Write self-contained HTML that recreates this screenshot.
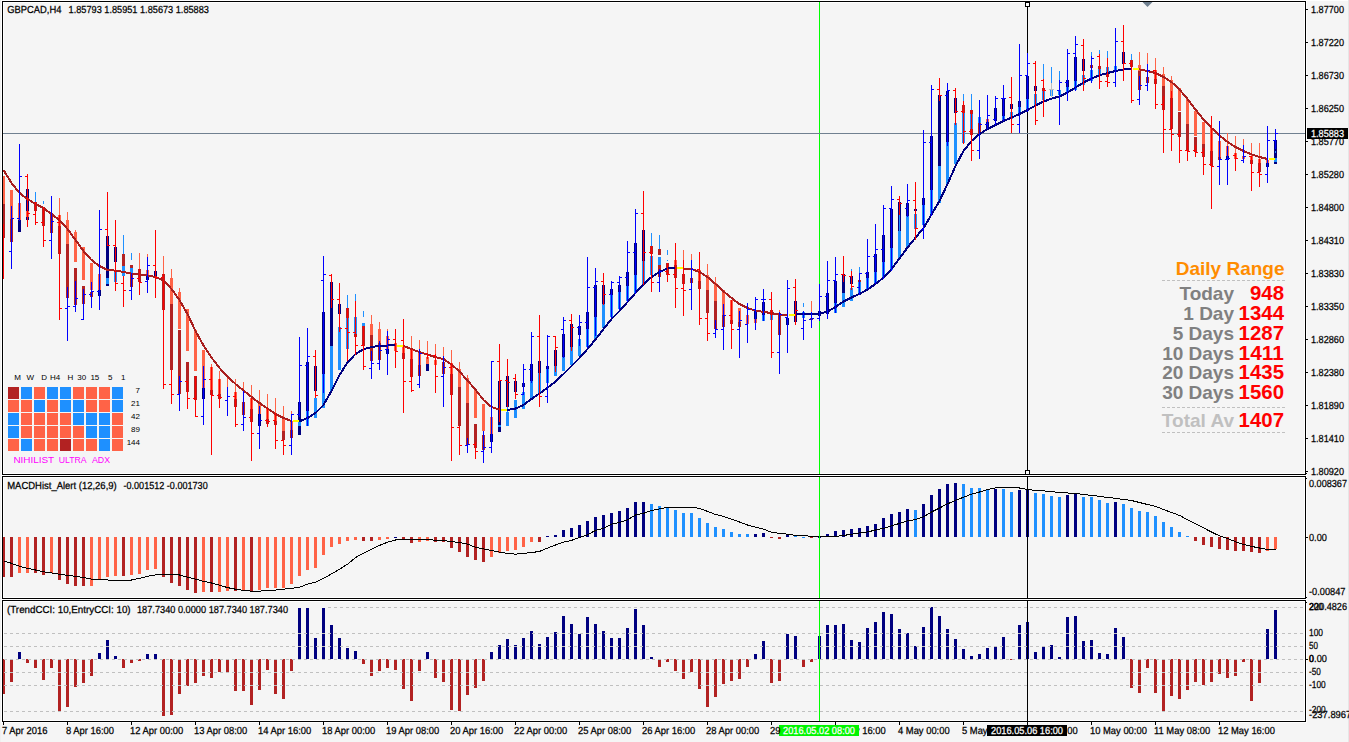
<!DOCTYPE html><html><head><meta charset="utf-8"><title>GBPCAD,H4</title>
<style>html,body{margin:0;padding:0;background:#f5f5f5;overflow:hidden}svg{display:block}text{font-family:"Liberation Sans",sans-serif}.s{font-size:10.2px;fill:#000;stroke:#000;stroke-width:.25px;text-rendering:geometricPrecision}.w{font-size:10.2px;fill:#fff;stroke:#fff;stroke-width:.25px;text-rendering:geometricPrecision}.m{font-size:8px;fill:#000}.b{font-weight:bold;font-size:19px}.n{font-weight:bold;font-size:20px;fill:#ff0000}</style></head><body>
<svg width="1349" height="742" viewBox="0 0 1349 742">
<rect width="1349" height="742" fill="#f5f5f5"/>
<g shape-rendering="crispEdges" fill="#ffffff">
<rect x="0" y="0" width="1" height="742" fill="#f0f0f0"/>
<rect x="1348" y="0" width="1" height="742" fill="#e6e6e6"/>
<rect x="1" y="0" width="1347" height="1"/>
<rect x="1" y="0" width="1" height="723"/>
<rect x="1306" y="1" width="1" height="722"/>
<rect x="3" y="2" width="1302" height="1"/>
<rect x="3" y="473" width="1302" height="1"/>
<rect x="3" y="2" width="1" height="472"/>
<rect x="1304" y="2" width="1" height="472"/>
<rect x="3" y="477" width="1302" height="1"/>
<rect x="3" y="597" width="1302" height="1"/>
<rect x="3" y="477" width="1" height="121"/>
<rect x="1304" y="477" width="1" height="121"/>
<rect x="3" y="601" width="1302" height="1"/>
<rect x="3" y="720" width="1302" height="1"/>
<rect x="3" y="601" width="1" height="120"/>
<rect x="1304" y="601" width="1" height="120"/>
<rect x="1" y="475" width="1306" height="1"/>
<rect x="1" y="599" width="1306" height="1"/>
<rect x="1" y="722" width="1306" height="1"/>
</g>
<g shape-rendering="crispEdges">
<rect x="819" y="2" width="1" height="472" fill="#00ff00"/>
<rect x="1027" y="2" width="1" height="472" fill="#000"/>
<rect x="3" y="133" width="1302" height="1" fill="#708090"/>
<line x1="328" y1="607.5" x2="1305" y2="607.5" stroke="#c0c0c0" stroke-width="1" stroke-dasharray="3 3"/>
<line x1="4" y1="633.5" x2="1305" y2="633.5" stroke="#c0c0c0" stroke-width="1" stroke-dasharray="3 3"/>
<line x1="4" y1="646.5" x2="1305" y2="646.5" stroke="#c0c0c0" stroke-width="1" stroke-dasharray="3 3"/>
<line x1="4" y1="659.5" x2="1305" y2="659.5" stroke="#c0c0c0" stroke-width="1" stroke-dasharray="3 3"/>
<line x1="4" y1="672.5" x2="1305" y2="672.5" stroke="#c0c0c0" stroke-width="1" stroke-dasharray="3 3"/>
<line x1="4" y1="685.5" x2="1305" y2="685.5" stroke="#c0c0c0" stroke-width="1" stroke-dasharray="3 3"/>
<line x1="4" y1="711.5" x2="1305" y2="711.5" stroke="#c0c0c0" stroke-width="1" stroke-dasharray="3 3"/>
<rect x="2" y="176" width="3" height="28" fill="#ff6347"/>
<rect x="2" y="204" width="3" height="34" fill="#b22222"/>
<rect x="10" y="190" width="3" height="29" fill="#ff6347"/>
<rect x="10" y="219" width="3" height="23" fill="#b22222"/>
<rect x="18" y="203" width="3" height="17" fill="#ff6347"/>
<rect x="18" y="220" width="3" height="12" fill="#000080"/>
<rect x="26" y="189" width="3" height="31" fill="#000080"/>
<rect x="26" y="211" width="3" height="6" fill="#ff6347"/>
<rect x="34" y="202" width="3" height="9" fill="#b22222"/>
<rect x="35" y="192" width="1" height="10" fill="#1e90ff"/>
<rect x="42" y="207" width="3" height="19" fill="#b22222"/>
<rect x="43" y="201" width="1" height="3" fill="#1e90ff"/>
<rect x="50" y="213" width="3" height="20" fill="#b22222"/>
<rect x="58" y="215" width="3" height="11" fill="#ff6347"/>
<rect x="58" y="226" width="3" height="28" fill="#b22222"/>
<rect x="59" y="198" width="1" height="17" fill="#ff6347"/>
<rect x="66" y="220" width="3" height="24" fill="#ff6347"/>
<rect x="66" y="244" width="3" height="54" fill="#b22222"/>
<rect x="67" y="212" width="1" height="8" fill="#ff6347"/>
<rect x="74" y="232" width="3" height="30" fill="#ff6347"/>
<rect x="74" y="268" width="3" height="37" fill="#b22222"/>
<rect x="75" y="230" width="1" height="2" fill="#ff6347"/>
<rect x="82" y="247" width="3" height="33" fill="#ff6347"/>
<rect x="82" y="286" width="3" height="18" fill="#b22222"/>
<rect x="90" y="263" width="3" height="27" fill="#ff6347"/>
<rect x="90" y="292" width="3" height="5" fill="#b22222"/>
<rect x="98" y="274" width="3" height="16" fill="#ff6347"/>
<rect x="98" y="290" width="3" height="6" fill="#000080"/>
<rect x="106" y="236" width="3" height="42" fill="#000080"/>
<rect x="106" y="278" width="3" height="6" fill="#1e90ff"/>
<rect x="106" y="284" width="3" height="2" fill="#000080"/>
<rect x="114" y="247" width="3" height="15" fill="#000080"/>
<rect x="114" y="270" width="3" height="12" fill="#1e90ff"/>
<rect x="122" y="254" width="3" height="12" fill="#b22222"/>
<rect x="122" y="266" width="3" height="10" fill="#1e90ff"/>
<rect x="123" y="235" width="1" height="19" fill="#1e90ff"/>
<rect x="130" y="265" width="3" height="3" fill="#b22222"/>
<rect x="130" y="268" width="3" height="6" fill="#1e90ff"/>
<rect x="130" y="274" width="3" height="13" fill="#b22222"/>
<rect x="131" y="253" width="1" height="7" fill="#1e90ff"/>
<rect x="138" y="269" width="3" height="13" fill="#b22222"/>
<rect x="139" y="253" width="1" height="16" fill="#ff6347"/>
<rect x="146" y="270" width="3" height="6" fill="#ff6347"/>
<rect x="146" y="276" width="3" height="4" fill="#000080"/>
<rect x="147" y="254" width="1" height="3" fill="#ff6347"/>
<rect x="154" y="271" width="3" height="7" fill="#000080"/>
<rect x="162" y="274" width="3" height="36" fill="#b22222"/>
<rect x="163" y="256" width="1" height="18" fill="#ff6347"/>
<rect x="170" y="278" width="3" height="26" fill="#ff6347"/>
<rect x="170" y="304" width="3" height="66" fill="#b22222"/>
<rect x="171" y="269" width="1" height="9" fill="#ff6347"/>
<rect x="178" y="292" width="3" height="37" fill="#ff6347"/>
<rect x="178" y="330" width="3" height="64" fill="#b22222"/>
<rect x="179" y="288" width="1" height="4" fill="#ff6347"/>
<rect x="186" y="309" width="3" height="42" fill="#ff6347"/>
<rect x="186" y="362" width="3" height="30" fill="#b22222"/>
<rect x="194" y="330" width="3" height="41" fill="#ff6347"/>
<rect x="194" y="376" width="3" height="24" fill="#b22222"/>
<rect x="202" y="350" width="3" height="38" fill="#ff6347"/>
<rect x="202" y="388" width="3" height="11" fill="#000080"/>
<rect x="210" y="367" width="3" height="23" fill="#ff6347"/>
<rect x="210" y="390" width="3" height="5" fill="#b22222"/>
<rect x="211" y="364" width="1" height="3" fill="#ff6347"/>
<rect x="218" y="379" width="3" height="15" fill="#ff6347"/>
<rect x="218" y="394" width="3" height="5" fill="#b22222"/>
<rect x="219" y="371" width="1" height="8" fill="#ff6347"/>
<rect x="227" y="377" width="1" height="10" fill="#ff6347"/>
<rect x="234" y="392" width="3" height="7" fill="#ff6347"/>
<rect x="234" y="399" width="3" height="8" fill="#b22222"/>
<rect x="235" y="379" width="1" height="13" fill="#ff6347"/>
<rect x="242" y="402" width="3" height="13" fill="#b22222"/>
<rect x="243" y="382" width="1" height="9" fill="#ff6347"/>
<rect x="250" y="398" width="3" height="11" fill="#ff6347"/>
<rect x="250" y="409" width="3" height="13" fill="#b22222"/>
<rect x="251" y="385" width="1" height="13" fill="#ff6347"/>
<rect x="258" y="403" width="3" height="11" fill="#ff6347"/>
<rect x="258" y="414" width="3" height="12" fill="#000080"/>
<rect x="259" y="390" width="1" height="13" fill="#ff6347"/>
<rect x="266" y="408" width="3" height="11" fill="#ff6347"/>
<rect x="266" y="419" width="3" height="5" fill="#b22222"/>
<rect x="267" y="394" width="1" height="14" fill="#ff6347"/>
<rect x="274" y="413" width="3" height="8" fill="#ff6347"/>
<rect x="274" y="421" width="3" height="4" fill="#b22222"/>
<rect x="275" y="398" width="1" height="15" fill="#ff6347"/>
<rect x="282" y="418" width="3" height="13" fill="#ff6347"/>
<rect x="282" y="431" width="3" height="9" fill="#b22222"/>
<rect x="283" y="406" width="1" height="12" fill="#ff6347"/>
<rect x="290" y="421" width="3" height="9" fill="#ff6347"/>
<rect x="290" y="430" width="3" height="8" fill="#b22222"/>
<rect x="291" y="411" width="1" height="3" fill="#ff6347"/>
<rect x="298" y="402" width="3" height="33" fill="#000080"/>
<rect x="298" y="421" width="3" height="5" fill="#1e90ff"/>
<rect x="306" y="362" width="3" height="49" fill="#000080"/>
<rect x="306" y="411" width="3" height="15" fill="#1e90ff"/>
<rect x="314" y="366" width="3" height="25" fill="#000080"/>
<rect x="314" y="398" width="3" height="20" fill="#1e90ff"/>
<rect x="322" y="312" width="3" height="62" fill="#000080"/>
<rect x="322" y="374" width="3" height="34" fill="#1e90ff"/>
<rect x="330" y="282" width="3" height="64" fill="#000080"/>
<rect x="330" y="346" width="3" height="45" fill="#1e90ff"/>
<rect x="338" y="304" width="3" height="10" fill="#000080"/>
<rect x="338" y="327" width="3" height="43" fill="#1e90ff"/>
<rect x="346" y="308" width="3" height="10" fill="#b22222"/>
<rect x="346" y="318" width="3" height="31" fill="#1e90ff"/>
<rect x="347" y="295" width="1" height="13" fill="#1e90ff"/>
<rect x="354" y="317" width="3" height="17" fill="#1e90ff"/>
<rect x="354" y="334" width="3" height="3" fill="#b22222"/>
<rect x="355" y="294" width="1" height="7" fill="#1e90ff"/>
<rect x="362" y="323" width="3" height="3" fill="#1e90ff"/>
<rect x="362" y="326" width="3" height="20" fill="#b22222"/>
<rect x="363" y="311" width="1" height="6" fill="#1e90ff"/>
<rect x="370" y="324" width="3" height="11" fill="#ff6347"/>
<rect x="370" y="335" width="3" height="26" fill="#b22222"/>
<rect x="371" y="315" width="1" height="9" fill="#ff6347"/>
<rect x="378" y="329" width="3" height="14" fill="#ff6347"/>
<rect x="378" y="343" width="3" height="17" fill="#b22222"/>
<rect x="379" y="322" width="1" height="7" fill="#ff6347"/>
<rect x="386" y="336" width="3" height="13" fill="#ff6347"/>
<rect x="386" y="349" width="3" height="5" fill="#000080"/>
<rect x="387" y="329" width="1" height="7" fill="#ff6347"/>
<rect x="394" y="343" width="3" height="8" fill="#ff6347"/>
<rect x="402" y="347" width="3" height="6" fill="#ff6347"/>
<rect x="402" y="353" width="3" height="6" fill="#b22222"/>
<rect x="410" y="349" width="3" height="10" fill="#ff6347"/>
<rect x="410" y="359" width="3" height="18" fill="#b22222"/>
<rect x="411" y="336" width="1" height="13" fill="#ff6347"/>
<rect x="418" y="351" width="3" height="14" fill="#ff6347"/>
<rect x="418" y="365" width="3" height="11" fill="#b22222"/>
<rect x="419" y="340" width="1" height="9" fill="#ff6347"/>
<rect x="426" y="357" width="3" height="7" fill="#ff6347"/>
<rect x="426" y="364" width="3" height="7" fill="#000080"/>
<rect x="427" y="341" width="1" height="13" fill="#ff6347"/>
<rect x="434" y="360" width="3" height="5" fill="#ff6347"/>
<rect x="435" y="344" width="1" height="10" fill="#ff6347"/>
<rect x="442" y="362" width="3" height="12" fill="#b22222"/>
<rect x="443" y="347" width="1" height="9" fill="#ff6347"/>
<rect x="450" y="363" width="3" height="11" fill="#ff6347"/>
<rect x="450" y="374" width="3" height="21" fill="#b22222"/>
<rect x="451" y="350" width="1" height="13" fill="#ff6347"/>
<rect x="458" y="369" width="3" height="18" fill="#ff6347"/>
<rect x="458" y="387" width="3" height="39" fill="#b22222"/>
<rect x="459" y="362" width="1" height="7" fill="#ff6347"/>
<rect x="466" y="378" width="3" height="25" fill="#ff6347"/>
<rect x="466" y="403" width="3" height="42" fill="#b22222"/>
<rect x="467" y="375" width="1" height="3" fill="#ff6347"/>
<rect x="474" y="389" width="3" height="29" fill="#ff6347"/>
<rect x="474" y="424" width="3" height="24" fill="#b22222"/>
<rect x="482" y="404" width="3" height="27" fill="#ff6347"/>
<rect x="482" y="435" width="3" height="15" fill="#b22222"/>
<rect x="490" y="417" width="3" height="17" fill="#ff6347"/>
<rect x="490" y="434" width="3" height="8" fill="#000080"/>
<rect x="498" y="381" width="3" height="51" fill="#000080"/>
<rect x="498" y="425" width="3" height="2" fill="#1e90ff"/>
<rect x="506" y="376" width="3" height="31" fill="#000080"/>
<rect x="506" y="412" width="3" height="14" fill="#1e90ff"/>
<rect x="507" y="392" width="1" height="20" fill="#1e90ff"/>
<rect x="514" y="381" width="3" height="11" fill="#000080"/>
<rect x="514" y="400" width="3" height="18" fill="#1e90ff"/>
<rect x="522" y="383" width="3" height="4" fill="#000080"/>
<rect x="522" y="392" width="3" height="17" fill="#1e90ff"/>
<rect x="530" y="364" width="3" height="17" fill="#000080"/>
<rect x="530" y="381" width="3" height="19" fill="#1e90ff"/>
<rect x="538" y="361" width="3" height="12" fill="#000080"/>
<rect x="538" y="373" width="3" height="21" fill="#1e90ff"/>
<rect x="546" y="366" width="3" height="3" fill="#000080"/>
<rect x="546" y="369" width="3" height="14" fill="#1e90ff"/>
<rect x="554" y="350" width="3" height="16" fill="#000080"/>
<rect x="554" y="366" width="3" height="10" fill="#1e90ff"/>
<rect x="562" y="334" width="3" height="23" fill="#000080"/>
<rect x="562" y="357" width="3" height="14" fill="#1e90ff"/>
<rect x="570" y="324" width="3" height="23" fill="#000080"/>
<rect x="570" y="347" width="3" height="18" fill="#1e90ff"/>
<rect x="578" y="326" width="3" height="9" fill="#000080"/>
<rect x="578" y="339" width="3" height="17" fill="#1e90ff"/>
<rect x="586" y="312" width="3" height="17" fill="#000080"/>
<rect x="586" y="329" width="3" height="18" fill="#1e90ff"/>
<rect x="594" y="285" width="3" height="32" fill="#000080"/>
<rect x="594" y="317" width="3" height="22" fill="#1e90ff"/>
<rect x="602" y="285" width="3" height="19" fill="#000080"/>
<rect x="602" y="304" width="3" height="24" fill="#1e90ff"/>
<rect x="610" y="289" width="3" height="6" fill="#000080"/>
<rect x="610" y="295" width="3" height="22" fill="#1e90ff"/>
<rect x="618" y="285" width="3" height="7" fill="#000080"/>
<rect x="618" y="292" width="3" height="17" fill="#1e90ff"/>
<rect x="626" y="272" width="3" height="14" fill="#000080"/>
<rect x="626" y="286" width="3" height="15" fill="#1e90ff"/>
<rect x="634" y="243" width="3" height="32" fill="#000080"/>
<rect x="634" y="275" width="3" height="18" fill="#1e90ff"/>
<rect x="642" y="230" width="3" height="31" fill="#000080"/>
<rect x="642" y="261" width="3" height="23" fill="#1e90ff"/>
<rect x="650" y="246" width="3" height="8" fill="#b22222"/>
<rect x="650" y="256" width="3" height="19" fill="#1e90ff"/>
<rect x="651" y="233" width="1" height="13" fill="#1e90ff"/>
<rect x="658" y="249" width="3" height="6" fill="#b22222"/>
<rect x="658" y="257" width="3" height="8" fill="#1e90ff"/>
<rect x="658" y="265" width="3" height="12" fill="#b22222"/>
<rect x="659" y="235" width="1" height="14" fill="#1e90ff"/>
<rect x="666" y="263" width="3" height="12" fill="#b22222"/>
<rect x="667" y="250" width="1" height="5" fill="#1e90ff"/>
<rect x="667" y="260" width="1" height="1" fill="#1e90ff"/>
<rect x="674" y="260" width="3" height="5" fill="#ff6347"/>
<rect x="674" y="265" width="3" height="13" fill="#b22222"/>
<rect x="682" y="274" width="3" height="10" fill="#b22222"/>
<rect x="683" y="250" width="1" height="10" fill="#ff6347"/>
<rect x="690" y="278" width="3" height="5" fill="#b22222"/>
<rect x="691" y="254" width="1" height="6" fill="#ff6347"/>
<rect x="698" y="270" width="3" height="11" fill="#ff6347"/>
<rect x="698" y="281" width="3" height="8" fill="#b22222"/>
<rect x="706" y="275" width="3" height="15" fill="#ff6347"/>
<rect x="706" y="290" width="3" height="23" fill="#b22222"/>
<rect x="707" y="264" width="1" height="11" fill="#ff6347"/>
<rect x="714" y="283" width="3" height="18" fill="#ff6347"/>
<rect x="714" y="301" width="3" height="28" fill="#b22222"/>
<rect x="715" y="277" width="1" height="6" fill="#ff6347"/>
<rect x="722" y="290" width="3" height="25" fill="#ff6347"/>
<rect x="722" y="315" width="3" height="12" fill="#b22222"/>
<rect x="730" y="300" width="3" height="20" fill="#ff6347"/>
<rect x="730" y="320" width="3" height="4" fill="#b22222"/>
<rect x="738" y="308" width="3" height="14" fill="#ff6347"/>
<rect x="738" y="322" width="3" height="5" fill="#b22222"/>
<rect x="746" y="315" width="3" height="9" fill="#ff6347"/>
<rect x="754" y="310" width="3" height="9" fill="#000080"/>
<rect x="754" y="319" width="3" height="4" fill="#ff6347"/>
<rect x="762" y="302" width="3" height="13" fill="#000080"/>
<rect x="762" y="315" width="3" height="6" fill="#1e90ff"/>
<rect x="770" y="310" width="3" height="5" fill="#b22222"/>
<rect x="770" y="315" width="3" height="5" fill="#1e90ff"/>
<rect x="778" y="315" width="3" height="20" fill="#b22222"/>
<rect x="779" y="310" width="1" height="2" fill="#ff6347"/>
<rect x="786" y="318" width="3" height="7" fill="#000080"/>
<rect x="794" y="301" width="3" height="21" fill="#000080"/>
<rect x="802" y="312" width="3" height="6" fill="#1e90ff"/>
<rect x="803" y="303" width="1" height="4" fill="#1e90ff"/>
<rect x="810" y="318" width="3" height="2" fill="#b22222"/>
<rect x="811" y="301" width="1" height="11" fill="#ff6347"/>
<rect x="818" y="311" width="3" height="5" fill="#000080"/>
<rect x="826" y="293" width="3" height="21" fill="#000080"/>
<rect x="834" y="281" width="3" height="22" fill="#000080"/>
<rect x="834" y="303" width="3" height="10" fill="#1e90ff"/>
<rect x="842" y="274" width="3" height="19" fill="#000080"/>
<rect x="842" y="293" width="3" height="14" fill="#1e90ff"/>
<rect x="850" y="276" width="3" height="8" fill="#000080"/>
<rect x="850" y="288" width="3" height="13" fill="#1e90ff"/>
<rect x="851" y="269" width="1" height="7" fill="#1e90ff"/>
<rect x="858" y="280" width="3" height="2" fill="#b22222"/>
<rect x="858" y="282" width="3" height="12" fill="#1e90ff"/>
<rect x="859" y="267" width="1" height="6" fill="#1e90ff"/>
<rect x="866" y="272" width="3" height="6" fill="#000080"/>
<rect x="866" y="278" width="3" height="11" fill="#1e90ff"/>
<rect x="874" y="254" width="3" height="18" fill="#000080"/>
<rect x="874" y="272" width="3" height="11" fill="#1e90ff"/>
<rect x="882" y="235" width="3" height="27" fill="#000080"/>
<rect x="882" y="262" width="3" height="16" fill="#1e90ff"/>
<rect x="890" y="209" width="3" height="39" fill="#000080"/>
<rect x="890" y="248" width="3" height="22" fill="#1e90ff"/>
<rect x="898" y="202" width="3" height="29" fill="#000080"/>
<rect x="898" y="231" width="3" height="28" fill="#1e90ff"/>
<rect x="899" y="214" width="1" height="17" fill="#1e90ff"/>
<rect x="906" y="203" width="3" height="13" fill="#000080"/>
<rect x="906" y="216" width="3" height="31" fill="#1e90ff"/>
<rect x="914" y="209" width="3" height="2" fill="#000080"/>
<rect x="914" y="214" width="3" height="15" fill="#1e90ff"/>
<rect x="922" y="198" width="3" height="7" fill="#000080"/>
<rect x="922" y="205" width="3" height="20" fill="#1e90ff"/>
<rect x="930" y="136" width="3" height="54" fill="#000080"/>
<rect x="930" y="190" width="3" height="25" fill="#1e90ff"/>
<rect x="938" y="95" width="3" height="71" fill="#000080"/>
<rect x="938" y="166" width="3" height="37" fill="#1e90ff"/>
<rect x="946" y="91" width="3" height="51" fill="#000080"/>
<rect x="946" y="142" width="3" height="42" fill="#1e90ff"/>
<rect x="954" y="98" width="3" height="15" fill="#000080"/>
<rect x="954" y="123" width="3" height="41" fill="#1e90ff"/>
<rect x="962" y="105" width="3" height="8" fill="#b22222"/>
<rect x="962" y="113" width="3" height="30" fill="#1e90ff"/>
<rect x="963" y="94" width="1" height="11" fill="#1e90ff"/>
<rect x="970" y="110" width="3" height="4" fill="#b22222"/>
<rect x="970" y="114" width="3" height="15" fill="#1e90ff"/>
<rect x="970" y="129" width="3" height="6" fill="#b22222"/>
<rect x="971" y="94" width="1" height="16" fill="#1e90ff"/>
<rect x="978" y="117" width="3" height="6" fill="#1e90ff"/>
<rect x="978" y="123" width="3" height="12" fill="#b22222"/>
<rect x="986" y="119" width="3" height="3" fill="#ff6347"/>
<rect x="986" y="122" width="3" height="7" fill="#000080"/>
<rect x="994" y="108" width="3" height="13" fill="#000080"/>
<rect x="1002" y="99" width="3" height="17" fill="#000080"/>
<rect x="1002" y="116" width="3" height="5" fill="#1e90ff"/>
<rect x="1010" y="104" width="3" height="5" fill="#000080"/>
<rect x="1010" y="112" width="3" height="7" fill="#1e90ff"/>
<rect x="1018" y="101" width="3" height="6" fill="#000080"/>
<rect x="1018" y="107" width="3" height="8" fill="#1e90ff"/>
<rect x="1026" y="76" width="3" height="23" fill="#000080"/>
<rect x="1026" y="99" width="3" height="12" fill="#1e90ff"/>
<rect x="1034" y="86" width="3" height="5" fill="#000080"/>
<rect x="1034" y="94" width="3" height="11" fill="#1e90ff"/>
<rect x="1042" y="88" width="3" height="3" fill="#b22222"/>
<rect x="1042" y="91" width="3" height="9" fill="#1e90ff"/>
<rect x="1043" y="64" width="1" height="24" fill="#1e90ff"/>
<rect x="1050" y="90" width="3" height="6" fill="#1e90ff"/>
<rect x="1051" y="67" width="1" height="16" fill="#1e90ff"/>
<rect x="1058" y="90" width="3" height="5" fill="#1e90ff"/>
<rect x="1059" y="71" width="1" height="19" fill="#1e90ff"/>
<rect x="1066" y="80" width="3" height="7" fill="#000080"/>
<rect x="1066" y="87" width="3" height="6" fill="#1e90ff"/>
<rect x="1074" y="57" width="3" height="24" fill="#000080"/>
<rect x="1074" y="81" width="3" height="9" fill="#1e90ff"/>
<rect x="1082" y="59" width="3" height="12" fill="#000080"/>
<rect x="1082" y="75" width="3" height="10" fill="#1e90ff"/>
<rect x="1090" y="65" width="3" height="3" fill="#b22222"/>
<rect x="1090" y="70" width="3" height="11" fill="#1e90ff"/>
<rect x="1091" y="52" width="1" height="13" fill="#1e90ff"/>
<rect x="1098" y="66" width="3" height="3" fill="#b22222"/>
<rect x="1098" y="69" width="3" height="7" fill="#1e90ff"/>
<rect x="1099" y="50" width="1" height="16" fill="#1e90ff"/>
<rect x="1106" y="67" width="3" height="5" fill="#1e90ff"/>
<rect x="1106" y="72" width="3" height="5" fill="#b22222"/>
<rect x="1107" y="51" width="1" height="16" fill="#1e90ff"/>
<rect x="1114" y="66" width="3" height="4" fill="#1e90ff"/>
<rect x="1122" y="52" width="3" height="12" fill="#000080"/>
<rect x="1130" y="60" width="3" height="7" fill="#b22222"/>
<rect x="1131" y="54" width="1" height="6" fill="#1e90ff"/>
<rect x="1138" y="65" width="3" height="6" fill="#ff6347"/>
<rect x="1138" y="71" width="3" height="19" fill="#b22222"/>
<rect x="1139" y="52" width="1" height="13" fill="#ff6347"/>
<rect x="1146" y="77" width="3" height="6" fill="#b22222"/>
<rect x="1147" y="53" width="1" height="11" fill="#ff6347"/>
<rect x="1154" y="70" width="3" height="9" fill="#ff6347"/>
<rect x="1154" y="79" width="3" height="5" fill="#b22222"/>
<rect x="1155" y="58" width="1" height="12" fill="#ff6347"/>
<rect x="1162" y="74" width="3" height="12" fill="#ff6347"/>
<rect x="1162" y="86" width="3" height="24" fill="#b22222"/>
<rect x="1163" y="67" width="1" height="7" fill="#ff6347"/>
<rect x="1170" y="80" width="3" height="18" fill="#ff6347"/>
<rect x="1170" y="98" width="3" height="31" fill="#b22222"/>
<rect x="1171" y="76" width="1" height="4" fill="#ff6347"/>
<rect x="1178" y="88" width="3" height="23" fill="#ff6347"/>
<rect x="1178" y="112" width="3" height="25" fill="#b22222"/>
<rect x="1186" y="99" width="3" height="25" fill="#ff6347"/>
<rect x="1186" y="124" width="3" height="27" fill="#b22222"/>
<rect x="1194" y="111" width="3" height="25" fill="#ff6347"/>
<rect x="1194" y="137" width="3" height="15" fill="#b22222"/>
<rect x="1202" y="122" width="3" height="22" fill="#ff6347"/>
<rect x="1202" y="144" width="3" height="13" fill="#b22222"/>
<rect x="1210" y="128" width="3" height="23" fill="#ff6347"/>
<rect x="1210" y="151" width="3" height="15" fill="#b22222"/>
<rect x="1218" y="141" width="3" height="16" fill="#ff6347"/>
<rect x="1218" y="157" width="3" height="3" fill="#b22222"/>
<rect x="1226" y="146" width="3" height="10" fill="#ff6347"/>
<rect x="1226" y="156" width="3" height="4" fill="#000080"/>
<rect x="1227" y="133" width="1" height="13" fill="#ff6347"/>
<rect x="1234" y="153" width="3" height="6" fill="#ff6347"/>
<rect x="1235" y="136" width="1" height="17" fill="#ff6347"/>
<rect x="1242" y="156" width="3" height="3" fill="#ff6347"/>
<rect x="1243" y="139" width="1" height="17" fill="#ff6347"/>
<rect x="1250" y="156" width="3" height="4" fill="#ff6347"/>
<rect x="1250" y="160" width="3" height="4" fill="#b22222"/>
<rect x="1251" y="143" width="1" height="13" fill="#ff6347"/>
<rect x="1258" y="159" width="3" height="4" fill="#ff6347"/>
<rect x="1258" y="163" width="3" height="9" fill="#b22222"/>
<rect x="1259" y="143" width="1" height="16" fill="#ff6347"/>
<rect x="1266" y="160" width="3" height="3" fill="#ff6347"/>
<rect x="1266" y="163" width="3" height="4" fill="#000080"/>
<rect x="1274" y="140" width="3" height="18" fill="#000080"/>
<rect x="1274" y="158" width="3" height="4" fill="#1e90ff"/>
<rect x="1274" y="162" width="3" height="2" fill="#000080"/>
<rect x="1275" y="151" width="1" height="2" fill="#1e90ff"/>
</g>
<path d="M3.5 170 L11.5 183 L19.5 193 L27.5 199 L35.5 204 L43.5 208 L51.5 214 L59.5 220 L67.5 229 L75.5 240 L83.5 251 L91.5 260 L99.5 266 L107.5 270 L115.5 270.6 L123.5 272 L131.5 273.6 L139.5 274.4 L147.5 275.4 L155.5 277 L163.5 280.4 L171.5 289 L179.5 300 L187.5 314 L195.5 331 L203.5 345.5 L211.5 357.5 L219.5 368 L227.5 376.5 L235.5 384 L243.5 390.5 L251.5 397 L259.5 403 L267.5 408.5 L275.5 414 L283.5 418 L291.5 421" fill="none" stroke="#a81e1e" stroke-width="2" stroke-linejoin="round" stroke-linecap="butt" shape-rendering="crispEdges"/>
<path d="M298.5 421.4 L299.5 421.4 L307.5 418 L315.5 413 L323.5 405 L331.5 391 L339.5 375 L347.5 362.5 L355.5 354 L363.5 349.3 L371.5 347 L379.5 346 L387.5 345.5 L395.5 345.2" fill="none" stroke="#000080" stroke-width="2" stroke-linejoin="round" stroke-linecap="butt" shape-rendering="crispEdges"/>
<path d="M402.5 346 L403.5 346 L411.5 349 L419.5 352.2 L427.5 354.4 L435.5 357.2 L443.5 359 L451.5 364.5 L459.5 371.5 L467.5 380.5 L475.5 389.7 L483.5 400 L491.5 407 L499.5 409.6" fill="none" stroke="#a81e1e" stroke-width="2" stroke-linejoin="round" stroke-linecap="butt" shape-rendering="crispEdges"/>
<path d="M506.5 410 L507.5 410 L515.5 408.5 L523.5 405 L531.5 399 L539.5 393.6 L547.5 387.6 L555.5 381.6 L563.5 374 L571.5 366 L579.5 358 L587.5 349 L595.5 339.5 L603.5 329 L611.5 319 L619.5 311 L627.5 302 L635.5 293 L643.5 284.6 L651.5 277 L659.5 272 L667.5 268.4 L675.5 268" fill="none" stroke="#000080" stroke-width="2" stroke-linejoin="round" stroke-linecap="butt" shape-rendering="crispEdges"/>
<path d="M682.5 268.6 L683.5 268.6 L691.5 269 L699.5 272 L707.5 277 L715.5 284 L723.5 291.3 L731.5 298 L739.5 304 L747.5 308 L755.5 310.7 L763.5 311.8 L771.5 313.2 L779.5 314.4 L787.5 315" fill="none" stroke="#a81e1e" stroke-width="2" stroke-linejoin="round" stroke-linecap="butt" shape-rendering="crispEdges"/>
<path d="M794.5 314.2 L795.5 314.2 L803.5 314 L811.5 314 L819.5 313.6 L827.5 311.6 L835.5 307 L843.5 301.6 L851.5 297.4 L859.5 294 L867.5 289.4 L875.5 284 L883.5 277.6 L891.5 269 L899.5 258.3 L907.5 247.5 L915.5 237.7 L923.5 228 L931.5 214.5 L939.5 201 L947.5 184 L955.5 166 L963.5 151 L971.5 141 L979.5 134 L987.5 129 L995.5 125 L1003.5 121 L1011.5 117.6 L1019.5 114 L1027.5 110 L1035.5 105.6 L1043.5 101.6 L1051.5 98.6 L1059.5 96.4 L1067.5 92.5 L1075.5 87.5 L1083.5 82.5 L1091.5 78.5 L1099.5 75.3 L1107.5 73 L1115.5 71 L1123.5 69.4 L1131.5 69" fill="none" stroke="#000080" stroke-width="2" stroke-linejoin="round" stroke-linecap="butt" shape-rendering="crispEdges"/>
<path d="M1138.5 69.4 L1139.5 69.4 L1147.5 71 L1155.5 73 L1163.5 77 L1171.5 82 L1179.5 89.5 L1187.5 99 L1195.5 109.5 L1203.5 119.5 L1211.5 128 L1219.5 135.4 L1227.5 142 L1235.5 147 L1243.5 151 L1251.5 154.4 L1259.5 157 L1267.5 159" fill="none" stroke="#a81e1e" stroke-width="2" stroke-linejoin="round" stroke-linecap="butt" shape-rendering="crispEdges"/>
<g shape-rendering="crispEdges">
<rect x="293" y="420" width="6" height="2" fill="#ffff00"/>
<rect x="397" y="345" width="6" height="2" fill="#ffff00"/>
<rect x="501" y="409" width="6" height="2" fill="#ffff00"/>
<rect x="677" y="267" width="6" height="2" fill="#ffff00"/>
<rect x="789" y="314" width="6" height="2" fill="#ffff00"/>
<rect x="1133" y="68" width="6" height="2" fill="#ffff00"/>
<rect x="1269" y="158" width="6" height="2" fill="#ffff00"/>
<rect x="3" y="224" width="1" height="55" fill="#ff0000"/>
<rect x="11" y="206" width="1" height="63" fill="#0000ff"/>
<rect x="9" y="251" width="2" height="1" fill="#0000ff"/>
<rect x="12" y="218" width="2" height="1" fill="#0000ff"/>
<rect x="19" y="144" width="1" height="77" fill="#0000ff"/>
<rect x="17" y="218" width="2" height="1" fill="#0000ff"/>
<rect x="20" y="176" width="2" height="1" fill="#0000ff"/>
<rect x="27" y="174" width="1" height="53" fill="#ff0000"/>
<rect x="25" y="176" width="2" height="1" fill="#ff0000"/>
<rect x="28" y="213" width="2" height="1" fill="#ff0000"/>
<rect x="35" y="202" width="1" height="23" fill="#ff0000"/>
<rect x="33" y="214" width="2" height="1" fill="#ff0000"/>
<rect x="36" y="222" width="2" height="1" fill="#ff0000"/>
<rect x="43" y="207" width="1" height="40" fill="#ff0000"/>
<rect x="41" y="222" width="2" height="1" fill="#ff0000"/>
<rect x="44" y="240" width="2" height="1" fill="#ff0000"/>
<rect x="51" y="196" width="1" height="63" fill="#0000ff"/>
<rect x="49" y="240" width="2" height="1" fill="#0000ff"/>
<rect x="52" y="221" width="2" height="1" fill="#0000ff"/>
<rect x="59" y="215" width="1" height="105" fill="#ff0000"/>
<rect x="57" y="222" width="2" height="1" fill="#ff0000"/>
<rect x="60" y="308" width="2" height="1" fill="#ff0000"/>
<rect x="67" y="287" width="1" height="54" fill="#0000ff"/>
<rect x="65" y="308" width="2" height="1" fill="#0000ff"/>
<rect x="68" y="306" width="2" height="1" fill="#0000ff"/>
<rect x="75" y="281" width="1" height="31" fill="#0000ff"/>
<rect x="73" y="306" width="2" height="1" fill="#0000ff"/>
<rect x="76" y="298" width="2" height="1" fill="#0000ff"/>
<rect x="83" y="289" width="1" height="31" fill="#0000ff"/>
<rect x="81" y="319" width="2" height="1" fill="#0000ff"/>
<rect x="84" y="294" width="2" height="1" fill="#0000ff"/>
<rect x="91" y="282" width="1" height="26" fill="#0000ff"/>
<rect x="89" y="294" width="2" height="1" fill="#0000ff"/>
<rect x="92" y="291" width="2" height="1" fill="#0000ff"/>
<rect x="99" y="210" width="1" height="100" fill="#0000ff"/>
<rect x="97" y="291" width="2" height="1" fill="#0000ff"/>
<rect x="100" y="229" width="2" height="1" fill="#0000ff"/>
<rect x="107" y="192" width="1" height="54" fill="#ff0000"/>
<rect x="105" y="229" width="2" height="1" fill="#ff0000"/>
<rect x="108" y="245" width="2" height="1" fill="#ff0000"/>
<rect x="115" y="220" width="1" height="71" fill="#ff0000"/>
<rect x="113" y="245" width="2" height="1" fill="#ff0000"/>
<rect x="116" y="283" width="2" height="1" fill="#ff0000"/>
<rect x="123" y="276" width="1" height="31" fill="#ff0000"/>
<rect x="121" y="283" width="2" height="1" fill="#ff0000"/>
<rect x="124" y="290" width="2" height="1" fill="#ff0000"/>
<rect x="131" y="273" width="1" height="27" fill="#0000ff"/>
<rect x="129" y="290" width="2" height="1" fill="#0000ff"/>
<rect x="132" y="278" width="2" height="1" fill="#0000ff"/>
<rect x="139" y="269" width="1" height="26" fill="#ff0000"/>
<rect x="137" y="278" width="2" height="1" fill="#ff0000"/>
<rect x="140" y="282" width="2" height="1" fill="#ff0000"/>
<rect x="147" y="257" width="1" height="36" fill="#0000ff"/>
<rect x="145" y="281" width="2" height="1" fill="#0000ff"/>
<rect x="148" y="265" width="2" height="1" fill="#0000ff"/>
<rect x="155" y="230" width="1" height="68" fill="#ff0000"/>
<rect x="153" y="265" width="2" height="1" fill="#ff0000"/>
<rect x="156" y="277" width="2" height="1" fill="#ff0000"/>
<rect x="163" y="274" width="1" height="115" fill="#ff0000"/>
<rect x="161" y="277" width="2" height="1" fill="#ff0000"/>
<rect x="164" y="384" width="2" height="1" fill="#ff0000"/>
<rect x="171" y="370" width="1" height="34" fill="#ff0000"/>
<rect x="169" y="384" width="2" height="1" fill="#ff0000"/>
<rect x="172" y="394" width="2" height="1" fill="#ff0000"/>
<rect x="179" y="376" width="1" height="35" fill="#0000ff"/>
<rect x="177" y="394" width="2" height="1" fill="#0000ff"/>
<rect x="180" y="381" width="2" height="1" fill="#0000ff"/>
<rect x="187" y="381" width="1" height="28" fill="#ff0000"/>
<rect x="185" y="381" width="2" height="1" fill="#ff0000"/>
<rect x="188" y="398" width="2" height="1" fill="#ff0000"/>
<rect x="195" y="376" width="1" height="41" fill="#ff0000"/>
<rect x="193" y="398" width="2" height="1" fill="#ff0000"/>
<rect x="196" y="416" width="2" height="1" fill="#ff0000"/>
<rect x="203" y="366" width="1" height="59" fill="#0000ff"/>
<rect x="201" y="416" width="2" height="1" fill="#0000ff"/>
<rect x="204" y="379" width="2" height="1" fill="#0000ff"/>
<rect x="211" y="367" width="1" height="88" fill="#ff0000"/>
<rect x="209" y="379" width="2" height="1" fill="#ff0000"/>
<rect x="212" y="395" width="2" height="1" fill="#ff0000"/>
<rect x="219" y="379" width="1" height="29" fill="#ff0000"/>
<rect x="217" y="395" width="2" height="1" fill="#ff0000"/>
<rect x="220" y="397" width="2" height="1" fill="#ff0000"/>
<rect x="227" y="387" width="1" height="29" fill="#0000ff"/>
<rect x="225" y="400" width="2" height="1" fill="#0000ff"/>
<rect x="228" y="396" width="2" height="1" fill="#0000ff"/>
<rect x="235" y="392" width="1" height="35" fill="#ff0000"/>
<rect x="233" y="396" width="2" height="1" fill="#ff0000"/>
<rect x="236" y="424" width="2" height="1" fill="#ff0000"/>
<rect x="243" y="391" width="1" height="40" fill="#0000ff"/>
<rect x="241" y="424" width="2" height="1" fill="#0000ff"/>
<rect x="244" y="417" width="2" height="1" fill="#0000ff"/>
<rect x="251" y="398" width="1" height="63" fill="#ff0000"/>
<rect x="249" y="417" width="2" height="1" fill="#ff0000"/>
<rect x="252" y="433" width="2" height="1" fill="#ff0000"/>
<rect x="259" y="406" width="1" height="43" fill="#0000ff"/>
<rect x="257" y="433" width="2" height="1" fill="#0000ff"/>
<rect x="260" y="420" width="2" height="1" fill="#0000ff"/>
<rect x="267" y="408" width="1" height="19" fill="#ff0000"/>
<rect x="265" y="420" width="2" height="1" fill="#ff0000"/>
<rect x="268" y="421" width="2" height="1" fill="#ff0000"/>
<rect x="275" y="413" width="1" height="36" fill="#ff0000"/>
<rect x="273" y="420" width="2" height="1" fill="#ff0000"/>
<rect x="276" y="440" width="2" height="1" fill="#ff0000"/>
<rect x="283" y="440" width="1" height="15" fill="#ff0000"/>
<rect x="281" y="440" width="2" height="1" fill="#ff0000"/>
<rect x="284" y="445" width="2" height="1" fill="#ff0000"/>
<rect x="291" y="414" width="1" height="41" fill="#0000ff"/>
<rect x="289" y="445" width="2" height="1" fill="#0000ff"/>
<rect x="292" y="414" width="2" height="1" fill="#0000ff"/>
<rect x="299" y="337" width="1" height="80" fill="#0000ff"/>
<rect x="297" y="414" width="2" height="1" fill="#0000ff"/>
<rect x="300" y="365" width="2" height="1" fill="#0000ff"/>
<rect x="307" y="328" width="1" height="98" fill="#0000ff"/>
<rect x="305" y="365" width="2" height="1" fill="#0000ff"/>
<rect x="308" y="356" width="2" height="1" fill="#0000ff"/>
<rect x="315" y="350" width="1" height="48" fill="#ff0000"/>
<rect x="313" y="356" width="2" height="1" fill="#ff0000"/>
<rect x="316" y="395" width="2" height="1" fill="#ff0000"/>
<rect x="323" y="256" width="1" height="137" fill="#0000ff"/>
<rect x="321" y="280" width="2" height="1" fill="#0000ff"/>
<rect x="324" y="274" width="2" height="1" fill="#0000ff"/>
<rect x="331" y="274" width="1" height="34" fill="#ff0000"/>
<rect x="329" y="275" width="2" height="1" fill="#ff0000"/>
<rect x="332" y="299" width="2" height="1" fill="#ff0000"/>
<rect x="339" y="283" width="1" height="49" fill="#ff0000"/>
<rect x="337" y="299" width="2" height="1" fill="#ff0000"/>
<rect x="340" y="328" width="2" height="1" fill="#ff0000"/>
<rect x="347" y="308" width="1" height="53" fill="#ff0000"/>
<rect x="345" y="328" width="2" height="1" fill="#ff0000"/>
<rect x="348" y="332" width="2" height="1" fill="#ff0000"/>
<rect x="355" y="301" width="1" height="54" fill="#ff0000"/>
<rect x="353" y="332" width="2" height="1" fill="#ff0000"/>
<rect x="356" y="345" width="2" height="1" fill="#ff0000"/>
<rect x="363" y="326" width="1" height="44" fill="#ff0000"/>
<rect x="361" y="345" width="2" height="1" fill="#ff0000"/>
<rect x="364" y="366" width="2" height="1" fill="#ff0000"/>
<rect x="371" y="351" width="1" height="28" fill="#0000ff"/>
<rect x="369" y="368" width="2" height="1" fill="#0000ff"/>
<rect x="372" y="363" width="2" height="1" fill="#0000ff"/>
<rect x="379" y="341" width="1" height="29" fill="#0000ff"/>
<rect x="377" y="363" width="2" height="1" fill="#0000ff"/>
<rect x="380" y="350" width="2" height="1" fill="#0000ff"/>
<rect x="387" y="331" width="1" height="44" fill="#0000ff"/>
<rect x="385" y="349" width="2" height="1" fill="#0000ff"/>
<rect x="388" y="339" width="2" height="1" fill="#0000ff"/>
<rect x="395" y="329" width="1" height="39" fill="#ff0000"/>
<rect x="393" y="339" width="2" height="1" fill="#ff0000"/>
<rect x="396" y="351" width="2" height="1" fill="#ff0000"/>
<rect x="403" y="319" width="1" height="94" fill="#ff0000"/>
<rect x="401" y="340" width="2" height="1" fill="#ff0000"/>
<rect x="404" y="381" width="2" height="1" fill="#ff0000"/>
<rect x="411" y="349" width="1" height="43" fill="#ff0000"/>
<rect x="409" y="381" width="2" height="1" fill="#ff0000"/>
<rect x="412" y="390" width="2" height="1" fill="#ff0000"/>
<rect x="419" y="349" width="1" height="39" fill="#0000ff"/>
<rect x="417" y="384" width="2" height="1" fill="#0000ff"/>
<rect x="420" y="353" width="2" height="1" fill="#0000ff"/>
<rect x="427" y="354" width="1" height="5" fill="#ff0000"/>
<rect x="425" y="353" width="2" height="1" fill="#ff0000"/>
<rect x="428" y="355" width="2" height="1" fill="#ff0000"/>
<rect x="435" y="354" width="1" height="39" fill="#ff0000"/>
<rect x="433" y="355" width="2" height="1" fill="#ff0000"/>
<rect x="436" y="376" width="2" height="1" fill="#ff0000"/>
<rect x="443" y="356" width="1" height="51" fill="#0000ff"/>
<rect x="441" y="376" width="2" height="1" fill="#0000ff"/>
<rect x="444" y="367" width="2" height="1" fill="#0000ff"/>
<rect x="451" y="363" width="1" height="98" fill="#ff0000"/>
<rect x="449" y="367" width="2" height="1" fill="#ff0000"/>
<rect x="452" y="427" width="2" height="1" fill="#ff0000"/>
<rect x="459" y="426" width="1" height="29" fill="#ff0000"/>
<rect x="457" y="427" width="2" height="1" fill="#ff0000"/>
<rect x="460" y="445" width="2" height="1" fill="#ff0000"/>
<rect x="467" y="438" width="1" height="15" fill="#0000ff"/>
<rect x="465" y="445" width="2" height="1" fill="#0000ff"/>
<rect x="468" y="444" width="2" height="1" fill="#0000ff"/>
<rect x="475" y="442" width="1" height="17" fill="#ff0000"/>
<rect x="473" y="444" width="2" height="1" fill="#ff0000"/>
<rect x="476" y="451" width="2" height="1" fill="#ff0000"/>
<rect x="483" y="431" width="1" height="32" fill="#0000ff"/>
<rect x="481" y="451" width="2" height="1" fill="#0000ff"/>
<rect x="484" y="447" width="2" height="1" fill="#0000ff"/>
<rect x="491" y="361" width="1" height="92" fill="#0000ff"/>
<rect x="489" y="447" width="2" height="1" fill="#0000ff"/>
<rect x="492" y="361" width="2" height="1" fill="#0000ff"/>
<rect x="499" y="344" width="1" height="78" fill="#ff0000"/>
<rect x="497" y="361" width="2" height="1" fill="#ff0000"/>
<rect x="500" y="380" width="2" height="1" fill="#ff0000"/>
<rect x="507" y="359" width="1" height="48" fill="#ff0000"/>
<rect x="505" y="380" width="2" height="1" fill="#ff0000"/>
<rect x="508" y="382" width="2" height="1" fill="#ff0000"/>
<rect x="515" y="374" width="1" height="25" fill="#ff0000"/>
<rect x="513" y="378" width="2" height="1" fill="#ff0000"/>
<rect x="516" y="394" width="2" height="1" fill="#ff0000"/>
<rect x="523" y="364" width="1" height="31" fill="#0000ff"/>
<rect x="521" y="394" width="2" height="1" fill="#0000ff"/>
<rect x="524" y="369" width="2" height="1" fill="#0000ff"/>
<rect x="531" y="332" width="1" height="51" fill="#0000ff"/>
<rect x="529" y="369" width="2" height="1" fill="#0000ff"/>
<rect x="532" y="336" width="2" height="1" fill="#0000ff"/>
<rect x="539" y="315" width="1" height="92" fill="#ff0000"/>
<rect x="537" y="336" width="2" height="1" fill="#ff0000"/>
<rect x="540" y="396" width="2" height="1" fill="#ff0000"/>
<rect x="547" y="335" width="1" height="68" fill="#0000ff"/>
<rect x="545" y="396" width="2" height="1" fill="#0000ff"/>
<rect x="548" y="336" width="2" height="1" fill="#0000ff"/>
<rect x="555" y="336" width="1" height="36" fill="#ff0000"/>
<rect x="553" y="336" width="2" height="1" fill="#ff0000"/>
<rect x="556" y="347" width="2" height="1" fill="#ff0000"/>
<rect x="563" y="317" width="1" height="41" fill="#0000ff"/>
<rect x="561" y="329" width="2" height="1" fill="#0000ff"/>
<rect x="564" y="320" width="2" height="1" fill="#0000ff"/>
<rect x="571" y="314" width="1" height="37" fill="#ff0000"/>
<rect x="569" y="320" width="2" height="1" fill="#ff0000"/>
<rect x="572" y="327" width="2" height="1" fill="#ff0000"/>
<rect x="579" y="315" width="1" height="31" fill="#0000ff"/>
<rect x="577" y="327" width="2" height="1" fill="#0000ff"/>
<rect x="580" y="322" width="2" height="1" fill="#0000ff"/>
<rect x="587" y="257" width="1" height="91" fill="#0000ff"/>
<rect x="585" y="322" width="2" height="1" fill="#0000ff"/>
<rect x="588" y="287" width="2" height="1" fill="#0000ff"/>
<rect x="595" y="268" width="1" height="68" fill="#0000ff"/>
<rect x="593" y="287" width="2" height="1" fill="#0000ff"/>
<rect x="596" y="281" width="2" height="1" fill="#0000ff"/>
<rect x="603" y="273" width="1" height="32" fill="#ff0000"/>
<rect x="601" y="281" width="2" height="1" fill="#ff0000"/>
<rect x="604" y="294" width="2" height="1" fill="#ff0000"/>
<rect x="611" y="281" width="1" height="37" fill="#0000ff"/>
<rect x="609" y="294" width="2" height="1" fill="#0000ff"/>
<rect x="612" y="282" width="2" height="1" fill="#0000ff"/>
<rect x="619" y="276" width="1" height="34" fill="#0000ff"/>
<rect x="617" y="282" width="2" height="1" fill="#0000ff"/>
<rect x="620" y="277" width="2" height="1" fill="#0000ff"/>
<rect x="627" y="241" width="1" height="61" fill="#0000ff"/>
<rect x="625" y="277" width="2" height="1" fill="#0000ff"/>
<rect x="628" y="252" width="2" height="1" fill="#0000ff"/>
<rect x="635" y="209" width="1" height="85" fill="#0000ff"/>
<rect x="633" y="252" width="2" height="1" fill="#0000ff"/>
<rect x="636" y="213" width="2" height="1" fill="#0000ff"/>
<rect x="643" y="191" width="1" height="94" fill="#ff0000"/>
<rect x="641" y="213" width="2" height="1" fill="#ff0000"/>
<rect x="644" y="252" width="2" height="1" fill="#ff0000"/>
<rect x="651" y="246" width="1" height="46" fill="#ff0000"/>
<rect x="649" y="252" width="2" height="1" fill="#ff0000"/>
<rect x="652" y="282" width="2" height="1" fill="#ff0000"/>
<rect x="659" y="269" width="1" height="23" fill="#0000ff"/>
<rect x="657" y="282" width="2" height="1" fill="#0000ff"/>
<rect x="660" y="271" width="2" height="1" fill="#0000ff"/>
<rect x="667" y="263" width="1" height="19" fill="#ff0000"/>
<rect x="665" y="271" width="2" height="1" fill="#ff0000"/>
<rect x="668" y="274" width="2" height="1" fill="#ff0000"/>
<rect x="675" y="243" width="1" height="65" fill="#ff0000"/>
<rect x="673" y="274" width="2" height="1" fill="#ff0000"/>
<rect x="676" y="288" width="2" height="1" fill="#ff0000"/>
<rect x="683" y="260" width="1" height="56" fill="#ff0000"/>
<rect x="681" y="288" width="2" height="1" fill="#ff0000"/>
<rect x="684" y="290" width="2" height="1" fill="#ff0000"/>
<rect x="691" y="260" width="1" height="50" fill="#0000ff"/>
<rect x="689" y="289" width="2" height="1" fill="#0000ff"/>
<rect x="692" y="269" width="2" height="1" fill="#0000ff"/>
<rect x="699" y="252" width="1" height="73" fill="#ff0000"/>
<rect x="697" y="269" width="2" height="1" fill="#ff0000"/>
<rect x="700" y="318" width="2" height="1" fill="#ff0000"/>
<rect x="707" y="313" width="1" height="28" fill="#ff0000"/>
<rect x="705" y="318" width="2" height="1" fill="#ff0000"/>
<rect x="708" y="333" width="2" height="1" fill="#ff0000"/>
<rect x="715" y="320" width="1" height="18" fill="#0000ff"/>
<rect x="713" y="333" width="2" height="1" fill="#0000ff"/>
<rect x="716" y="329" width="2" height="1" fill="#0000ff"/>
<rect x="723" y="304" width="1" height="46" fill="#0000ff"/>
<rect x="721" y="329" width="2" height="1" fill="#0000ff"/>
<rect x="724" y="315" width="2" height="1" fill="#0000ff"/>
<rect x="731" y="300" width="1" height="49" fill="#ff0000"/>
<rect x="729" y="315" width="2" height="1" fill="#ff0000"/>
<rect x="732" y="329" width="2" height="1" fill="#ff0000"/>
<rect x="739" y="311" width="1" height="47" fill="#0000ff"/>
<rect x="737" y="329" width="2" height="1" fill="#0000ff"/>
<rect x="740" y="320" width="2" height="1" fill="#0000ff"/>
<rect x="747" y="303" width="1" height="40" fill="#0000ff"/>
<rect x="745" y="324" width="2" height="1" fill="#0000ff"/>
<rect x="748" y="309" width="2" height="1" fill="#0000ff"/>
<rect x="755" y="297" width="1" height="33" fill="#0000ff"/>
<rect x="753" y="309" width="2" height="1" fill="#0000ff"/>
<rect x="756" y="299" width="2" height="1" fill="#0000ff"/>
<rect x="763" y="289" width="1" height="32" fill="#0000ff"/>
<rect x="761" y="299" width="2" height="1" fill="#0000ff"/>
<rect x="764" y="299" width="2" height="1" fill="#0000ff"/>
<rect x="771" y="292" width="1" height="66" fill="#ff0000"/>
<rect x="769" y="299" width="2" height="1" fill="#ff0000"/>
<rect x="772" y="352" width="2" height="1" fill="#ff0000"/>
<rect x="779" y="312" width="1" height="62" fill="#0000ff"/>
<rect x="777" y="352" width="2" height="1" fill="#0000ff"/>
<rect x="780" y="314" width="2" height="1" fill="#0000ff"/>
<rect x="787" y="280" width="1" height="73" fill="#0000ff"/>
<rect x="785" y="317" width="2" height="1" fill="#0000ff"/>
<rect x="788" y="288" width="2" height="1" fill="#0000ff"/>
<rect x="795" y="279" width="1" height="46" fill="#ff0000"/>
<rect x="793" y="287" width="2" height="1" fill="#ff0000"/>
<rect x="796" y="310" width="2" height="1" fill="#ff0000"/>
<rect x="803" y="311" width="1" height="29" fill="#0000ff"/>
<rect x="801" y="328" width="2" height="1" fill="#0000ff"/>
<rect x="804" y="320" width="2" height="1" fill="#0000ff"/>
<rect x="811" y="312" width="1" height="16" fill="#0000ff"/>
<rect x="809" y="319" width="2" height="1" fill="#0000ff"/>
<rect x="812" y="318" width="2" height="1" fill="#0000ff"/>
<rect x="819" y="284" width="1" height="37" fill="#0000ff"/>
<rect x="817" y="318" width="2" height="1" fill="#0000ff"/>
<rect x="820" y="296" width="2" height="1" fill="#0000ff"/>
<rect x="827" y="261" width="1" height="58" fill="#0000ff"/>
<rect x="825" y="296" width="2" height="1" fill="#0000ff"/>
<rect x="828" y="280" width="2" height="1" fill="#0000ff"/>
<rect x="835" y="257" width="1" height="56" fill="#0000ff"/>
<rect x="833" y="280" width="2" height="1" fill="#0000ff"/>
<rect x="836" y="274" width="2" height="1" fill="#0000ff"/>
<rect x="843" y="256" width="1" height="26" fill="#ff0000"/>
<rect x="841" y="274" width="2" height="1" fill="#ff0000"/>
<rect x="844" y="275" width="2" height="1" fill="#ff0000"/>
<rect x="851" y="271" width="1" height="19" fill="#ff0000"/>
<rect x="849" y="276" width="2" height="1" fill="#ff0000"/>
<rect x="852" y="286" width="2" height="1" fill="#ff0000"/>
<rect x="859" y="273" width="1" height="22" fill="#0000ff"/>
<rect x="857" y="287" width="2" height="1" fill="#0000ff"/>
<rect x="860" y="273" width="2" height="1" fill="#0000ff"/>
<rect x="867" y="239" width="1" height="50" fill="#0000ff"/>
<rect x="865" y="273" width="2" height="1" fill="#0000ff"/>
<rect x="868" y="256" width="2" height="1" fill="#0000ff"/>
<rect x="875" y="224" width="1" height="60" fill="#0000ff"/>
<rect x="873" y="256" width="2" height="1" fill="#0000ff"/>
<rect x="876" y="249" width="2" height="1" fill="#0000ff"/>
<rect x="883" y="205" width="1" height="74" fill="#0000ff"/>
<rect x="881" y="249" width="2" height="1" fill="#0000ff"/>
<rect x="884" y="208" width="2" height="1" fill="#0000ff"/>
<rect x="891" y="186" width="1" height="85" fill="#0000ff"/>
<rect x="889" y="208" width="2" height="1" fill="#0000ff"/>
<rect x="892" y="199" width="2" height="1" fill="#0000ff"/>
<rect x="899" y="196" width="1" height="19" fill="#ff0000"/>
<rect x="897" y="199" width="2" height="1" fill="#ff0000"/>
<rect x="900" y="203" width="2" height="1" fill="#ff0000"/>
<rect x="907" y="184" width="1" height="33" fill="#0000ff"/>
<rect x="905" y="208" width="2" height="1" fill="#0000ff"/>
<rect x="908" y="200" width="2" height="1" fill="#0000ff"/>
<rect x="915" y="182" width="1" height="58" fill="#ff0000"/>
<rect x="913" y="200" width="2" height="1" fill="#ff0000"/>
<rect x="916" y="228" width="2" height="1" fill="#ff0000"/>
<rect x="923" y="130" width="1" height="109" fill="#0000ff"/>
<rect x="921" y="229" width="2" height="1" fill="#0000ff"/>
<rect x="924" y="142" width="2" height="1" fill="#0000ff"/>
<rect x="931" y="85" width="1" height="131" fill="#0000ff"/>
<rect x="929" y="142" width="2" height="1" fill="#0000ff"/>
<rect x="932" y="89" width="2" height="1" fill="#0000ff"/>
<rect x="939" y="78" width="1" height="23" fill="#ff0000"/>
<rect x="937" y="89" width="2" height="1" fill="#ff0000"/>
<rect x="940" y="95" width="2" height="1" fill="#ff0000"/>
<rect x="947" y="83" width="1" height="63" fill="#0000ff"/>
<rect x="945" y="95" width="2" height="1" fill="#0000ff"/>
<rect x="948" y="90" width="2" height="1" fill="#0000ff"/>
<rect x="955" y="88" width="1" height="37" fill="#ff0000"/>
<rect x="953" y="90" width="2" height="1" fill="#ff0000"/>
<rect x="956" y="111" width="2" height="1" fill="#ff0000"/>
<rect x="963" y="101" width="1" height="43" fill="#ff0000"/>
<rect x="961" y="111" width="2" height="1" fill="#ff0000"/>
<rect x="964" y="131" width="2" height="1" fill="#ff0000"/>
<rect x="971" y="110" width="1" height="51" fill="#ff0000"/>
<rect x="969" y="131" width="2" height="1" fill="#ff0000"/>
<rect x="972" y="150" width="2" height="1" fill="#ff0000"/>
<rect x="979" y="100" width="1" height="59" fill="#0000ff"/>
<rect x="977" y="150" width="2" height="1" fill="#0000ff"/>
<rect x="980" y="124" width="2" height="1" fill="#0000ff"/>
<rect x="987" y="95" width="1" height="34" fill="#0000ff"/>
<rect x="985" y="124" width="2" height="1" fill="#0000ff"/>
<rect x="988" y="115" width="2" height="1" fill="#0000ff"/>
<rect x="995" y="96" width="1" height="29" fill="#0000ff"/>
<rect x="993" y="119" width="2" height="1" fill="#0000ff"/>
<rect x="996" y="98" width="2" height="1" fill="#0000ff"/>
<rect x="1003" y="85" width="1" height="36" fill="#0000ff"/>
<rect x="1001" y="98" width="2" height="1" fill="#0000ff"/>
<rect x="1004" y="98" width="2" height="1" fill="#0000ff"/>
<rect x="1011" y="77" width="1" height="56" fill="#ff0000"/>
<rect x="1009" y="97" width="2" height="1" fill="#ff0000"/>
<rect x="1012" y="124" width="2" height="1" fill="#ff0000"/>
<rect x="1019" y="44" width="1" height="89" fill="#0000ff"/>
<rect x="1017" y="124" width="2" height="1" fill="#0000ff"/>
<rect x="1020" y="75" width="2" height="1" fill="#0000ff"/>
<rect x="1027" y="53" width="1" height="59" fill="#0000ff"/>
<rect x="1025" y="75" width="2" height="1" fill="#0000ff"/>
<rect x="1028" y="63" width="2" height="1" fill="#0000ff"/>
<rect x="1035" y="61" width="1" height="64" fill="#ff0000"/>
<rect x="1033" y="63" width="2" height="1" fill="#ff0000"/>
<rect x="1036" y="120" width="2" height="1" fill="#ff0000"/>
<rect x="1043" y="79" width="1" height="38" fill="#ff0000"/>
<rect x="1041" y="80" width="2" height="1" fill="#ff0000"/>
<rect x="1044" y="90" width="2" height="1" fill="#ff0000"/>
<rect x="1051" y="83" width="1" height="14" fill="#c0c0c0"/>
<rect x="1049" y="89" width="2" height="1" fill="#c0c0c0"/>
<rect x="1052" y="89" width="2" height="1" fill="#c0c0c0"/>
<rect x="1059" y="80" width="1" height="45" fill="#0000ff"/>
<rect x="1057" y="90" width="2" height="1" fill="#0000ff"/>
<rect x="1060" y="82" width="2" height="1" fill="#0000ff"/>
<rect x="1067" y="49" width="1" height="52" fill="#0000ff"/>
<rect x="1065" y="82" width="2" height="1" fill="#0000ff"/>
<rect x="1068" y="53" width="2" height="1" fill="#0000ff"/>
<rect x="1075" y="36" width="1" height="55" fill="#0000ff"/>
<rect x="1073" y="53" width="2" height="1" fill="#0000ff"/>
<rect x="1076" y="44" width="2" height="1" fill="#0000ff"/>
<rect x="1083" y="39" width="1" height="52" fill="#ff0000"/>
<rect x="1081" y="45" width="2" height="1" fill="#ff0000"/>
<rect x="1084" y="78" width="2" height="1" fill="#ff0000"/>
<rect x="1091" y="56" width="1" height="27" fill="#0000ff"/>
<rect x="1089" y="78" width="2" height="1" fill="#0000ff"/>
<rect x="1092" y="58" width="2" height="1" fill="#0000ff"/>
<rect x="1099" y="54" width="1" height="35" fill="#ff0000"/>
<rect x="1097" y="56" width="2" height="1" fill="#ff0000"/>
<rect x="1100" y="81" width="2" height="1" fill="#ff0000"/>
<rect x="1107" y="58" width="1" height="29" fill="#ff0000"/>
<rect x="1105" y="81" width="2" height="1" fill="#ff0000"/>
<rect x="1108" y="82" width="2" height="1" fill="#ff0000"/>
<rect x="1115" y="28" width="1" height="59" fill="#0000ff"/>
<rect x="1113" y="82" width="2" height="1" fill="#0000ff"/>
<rect x="1116" y="41" width="2" height="1" fill="#0000ff"/>
<rect x="1123" y="25" width="1" height="56" fill="#ff0000"/>
<rect x="1121" y="41" width="2" height="1" fill="#ff0000"/>
<rect x="1124" y="63" width="2" height="1" fill="#ff0000"/>
<rect x="1131" y="60" width="1" height="43" fill="#ff0000"/>
<rect x="1129" y="63" width="2" height="1" fill="#ff0000"/>
<rect x="1132" y="100" width="2" height="1" fill="#ff0000"/>
<rect x="1139" y="76" width="1" height="29" fill="#0000ff"/>
<rect x="1137" y="99" width="2" height="1" fill="#0000ff"/>
<rect x="1140" y="85" width="2" height="1" fill="#0000ff"/>
<rect x="1147" y="64" width="1" height="27" fill="#0000ff"/>
<rect x="1145" y="85" width="2" height="1" fill="#0000ff"/>
<rect x="1148" y="70" width="2" height="1" fill="#0000ff"/>
<rect x="1155" y="70" width="1" height="39" fill="#ff0000"/>
<rect x="1153" y="70" width="2" height="1" fill="#ff0000"/>
<rect x="1156" y="104" width="2" height="1" fill="#ff0000"/>
<rect x="1163" y="96" width="1" height="57" fill="#ff0000"/>
<rect x="1161" y="104" width="2" height="1" fill="#ff0000"/>
<rect x="1164" y="129" width="2" height="1" fill="#ff0000"/>
<rect x="1171" y="91" width="1" height="60" fill="#ff0000"/>
<rect x="1169" y="129" width="2" height="1" fill="#ff0000"/>
<rect x="1172" y="134" width="2" height="1" fill="#ff0000"/>
<rect x="1179" y="130" width="1" height="33" fill="#ff0000"/>
<rect x="1177" y="134" width="2" height="1" fill="#ff0000"/>
<rect x="1180" y="150" width="2" height="1" fill="#ff0000"/>
<rect x="1187" y="140" width="1" height="21" fill="#ff0000"/>
<rect x="1185" y="150" width="2" height="1" fill="#ff0000"/>
<rect x="1188" y="151" width="2" height="1" fill="#ff0000"/>
<rect x="1195" y="145" width="1" height="12" fill="#ff0000"/>
<rect x="1193" y="150" width="2" height="1" fill="#ff0000"/>
<rect x="1196" y="152" width="2" height="1" fill="#ff0000"/>
<rect x="1203" y="148" width="1" height="27" fill="#ff0000"/>
<rect x="1201" y="152" width="2" height="1" fill="#ff0000"/>
<rect x="1204" y="164" width="2" height="1" fill="#ff0000"/>
<rect x="1211" y="116" width="1" height="93" fill="#ff0000"/>
<rect x="1209" y="164" width="2" height="1" fill="#ff0000"/>
<rect x="1212" y="166" width="2" height="1" fill="#ff0000"/>
<rect x="1219" y="121" width="1" height="64" fill="#0000ff"/>
<rect x="1217" y="166" width="2" height="1" fill="#0000ff"/>
<rect x="1220" y="159" width="2" height="1" fill="#0000ff"/>
<rect x="1227" y="146" width="1" height="39" fill="#0000ff"/>
<rect x="1225" y="159" width="2" height="1" fill="#0000ff"/>
<rect x="1228" y="158" width="2" height="1" fill="#0000ff"/>
<rect x="1235" y="153" width="1" height="18" fill="#ff0000"/>
<rect x="1233" y="155" width="2" height="1" fill="#ff0000"/>
<rect x="1236" y="158" width="2" height="1" fill="#ff0000"/>
<rect x="1243" y="145" width="1" height="18" fill="#0000ff"/>
<rect x="1241" y="160" width="2" height="1" fill="#0000ff"/>
<rect x="1244" y="156" width="2" height="1" fill="#0000ff"/>
<rect x="1251" y="156" width="1" height="35" fill="#ff0000"/>
<rect x="1249" y="156" width="2" height="1" fill="#ff0000"/>
<rect x="1252" y="172" width="2" height="1" fill="#ff0000"/>
<rect x="1259" y="159" width="1" height="28" fill="#ff0000"/>
<rect x="1257" y="172" width="2" height="1" fill="#ff0000"/>
<rect x="1260" y="174" width="2" height="1" fill="#ff0000"/>
<rect x="1267" y="126" width="1" height="57" fill="#0000ff"/>
<rect x="1265" y="174" width="2" height="1" fill="#0000ff"/>
<rect x="1268" y="140" width="2" height="1" fill="#0000ff"/>
<rect x="1275" y="129" width="1" height="20" fill="#0000ff"/>
<rect x="1273" y="140" width="2" height="1" fill="#0000ff"/>
<rect x="1276" y="133" width="2" height="1" fill="#0000ff"/>
<rect x="2" y="537" width="3" height="40" fill="#b22222"/>
<rect x="10" y="537" width="3" height="40" fill="#b22222"/>
<rect x="18" y="537" width="3" height="36" fill="#ff6347"/>
<rect x="26" y="537" width="3" height="36" fill="#ff6347"/>
<rect x="34" y="537" width="3" height="36" fill="#b22222"/>
<rect x="42" y="537" width="3" height="38" fill="#b22222"/>
<rect x="50" y="537" width="3" height="36" fill="#ff6347"/>
<rect x="58" y="537" width="3" height="43" fill="#b22222"/>
<rect x="66" y="537" width="3" height="47" fill="#b22222"/>
<rect x="74" y="537" width="3" height="49" fill="#b22222"/>
<rect x="82" y="537" width="3" height="49" fill="#b22222"/>
<rect x="90" y="537" width="3" height="49" fill="#ff6347"/>
<rect x="98" y="537" width="3" height="42" fill="#ff6347"/>
<rect x="106" y="537" width="3" height="40" fill="#ff6347"/>
<rect x="114" y="537" width="3" height="39" fill="#ff6347"/>
<rect x="122" y="537" width="3" height="39" fill="#b22222"/>
<rect x="130" y="537" width="3" height="38" fill="#ff6347"/>
<rect x="138" y="537" width="3" height="37" fill="#ff6347"/>
<rect x="146" y="537" width="3" height="33" fill="#ff6347"/>
<rect x="154" y="537" width="3" height="32" fill="#ff6347"/>
<rect x="162" y="537" width="3" height="40" fill="#b22222"/>
<rect x="170" y="537" width="3" height="46" fill="#b22222"/>
<rect x="178" y="537" width="3" height="49" fill="#b22222"/>
<rect x="186" y="537" width="3" height="53" fill="#b22222"/>
<rect x="194" y="537" width="3" height="56" fill="#b22222"/>
<rect x="202" y="537" width="3" height="55" fill="#ff6347"/>
<rect x="210" y="537" width="3" height="55" fill="#b22222"/>
<rect x="218" y="537" width="3" height="55" fill="#ff6347"/>
<rect x="226" y="537" width="3" height="54" fill="#ff6347"/>
<rect x="234" y="537" width="3" height="54" fill="#b22222"/>
<rect x="242" y="537" width="3" height="53" fill="#ff6347"/>
<rect x="250" y="537" width="3" height="54" fill="#b22222"/>
<rect x="258" y="537" width="3" height="53" fill="#ff6347"/>
<rect x="266" y="537" width="3" height="51" fill="#ff6347"/>
<rect x="274" y="537" width="3" height="51" fill="#ff6347"/>
<rect x="282" y="537" width="3" height="51" fill="#ff6347"/>
<rect x="290" y="537" width="3" height="47" fill="#ff6347"/>
<rect x="298" y="537" width="3" height="39" fill="#ff6347"/>
<rect x="306" y="537" width="3" height="33" fill="#ff6347"/>
<rect x="314" y="537" width="3" height="31" fill="#ff6347"/>
<rect x="322" y="537" width="3" height="18" fill="#ff6347"/>
<rect x="330" y="537" width="3" height="10" fill="#ff6347"/>
<rect x="338" y="537" width="3" height="7" fill="#ff6347"/>
<rect x="346" y="537" width="3" height="4" fill="#ff6347"/>
<rect x="354" y="537" width="3" height="3" fill="#ff6347"/>
<rect x="362" y="537" width="3" height="4" fill="#b22222"/>
<rect x="370" y="537" width="3" height="4" fill="#b22222"/>
<rect x="378" y="537" width="3" height="3" fill="#ff6347"/>
<rect x="386" y="537" width="3" height="2" fill="#ff6347"/>
<rect x="394" y="537" width="3" height="1" fill="#000080"/>
<rect x="402" y="537" width="3" height="2" fill="#b22222"/>
<rect x="410" y="537" width="3" height="6" fill="#b22222"/>
<rect x="418" y="537" width="3" height="5" fill="#ff6347"/>
<rect x="426" y="537" width="3" height="4" fill="#ff6347"/>
<rect x="434" y="537" width="3" height="5" fill="#b22222"/>
<rect x="442" y="537" width="3" height="5" fill="#b22222"/>
<rect x="450" y="537" width="3" height="11" fill="#b22222"/>
<rect x="458" y="537" width="3" height="15" fill="#b22222"/>
<rect x="466" y="537" width="3" height="20" fill="#b22222"/>
<rect x="474" y="537" width="3" height="23" fill="#b22222"/>
<rect x="482" y="537" width="3" height="25" fill="#b22222"/>
<rect x="490" y="537" width="3" height="20" fill="#ff6347"/>
<rect x="498" y="537" width="3" height="16" fill="#ff6347"/>
<rect x="506" y="537" width="3" height="14" fill="#ff6347"/>
<rect x="514" y="537" width="3" height="13" fill="#ff6347"/>
<rect x="522" y="537" width="3" height="10" fill="#ff6347"/>
<rect x="530" y="537" width="3" height="5" fill="#ff6347"/>
<rect x="538" y="537" width="3" height="5" fill="#b22222"/>
<rect x="546" y="536" width="3" height="1" fill="#000080"/>
<rect x="554" y="535" width="3" height="2" fill="#000080"/>
<rect x="562" y="530" width="3" height="7" fill="#000080"/>
<rect x="570" y="528" width="3" height="9" fill="#000080"/>
<rect x="578" y="525" width="3" height="12" fill="#000080"/>
<rect x="586" y="521" width="3" height="16" fill="#000080"/>
<rect x="594" y="517" width="3" height="20" fill="#000080"/>
<rect x="602" y="515" width="3" height="22" fill="#000080"/>
<rect x="610" y="513" width="3" height="24" fill="#000080"/>
<rect x="618" y="511" width="3" height="26" fill="#000080"/>
<rect x="626" y="508" width="3" height="29" fill="#000080"/>
<rect x="634" y="502" width="3" height="35" fill="#000080"/>
<rect x="642" y="502" width="3" height="35" fill="#000080"/>
<rect x="650" y="504" width="3" height="33" fill="#1e90ff"/>
<rect x="658" y="506" width="3" height="31" fill="#1e90ff"/>
<rect x="666" y="508" width="3" height="29" fill="#1e90ff"/>
<rect x="674" y="510" width="3" height="27" fill="#1e90ff"/>
<rect x="682" y="513" width="3" height="24" fill="#1e90ff"/>
<rect x="690" y="513" width="3" height="24" fill="#1e90ff"/>
<rect x="698" y="518" width="3" height="19" fill="#1e90ff"/>
<rect x="706" y="523" width="3" height="14" fill="#1e90ff"/>
<rect x="714" y="527" width="3" height="10" fill="#1e90ff"/>
<rect x="722" y="529" width="3" height="8" fill="#1e90ff"/>
<rect x="730" y="532" width="3" height="5" fill="#1e90ff"/>
<rect x="738" y="534" width="3" height="3" fill="#1e90ff"/>
<rect x="746" y="534" width="3" height="3" fill="#1e90ff"/>
<rect x="754" y="534" width="3" height="3" fill="#000080"/>
<rect x="762" y="533" width="3" height="4" fill="#000080"/>
<rect x="770" y="537" width="3" height="1" fill="#b22222"/>
<rect x="778" y="537" width="3" height="2" fill="#b22222"/>
<rect x="786" y="534" width="3" height="3" fill="#000080"/>
<rect x="794" y="536" width="3" height="1" fill="#1e90ff"/>
<rect x="802" y="537" width="3" height="1" fill="#1e90ff"/>
<rect x="810" y="537" width="3" height="1" fill="#b22222"/>
<rect x="818" y="537" width="3" height="1" fill="#000080"/>
<rect x="826" y="534" width="3" height="3" fill="#000080"/>
<rect x="834" y="531" width="3" height="6" fill="#000080"/>
<rect x="842" y="530" width="3" height="7" fill="#000080"/>
<rect x="850" y="529" width="3" height="8" fill="#000080"/>
<rect x="858" y="528" width="3" height="9" fill="#000080"/>
<rect x="866" y="526" width="3" height="11" fill="#000080"/>
<rect x="874" y="524" width="3" height="13" fill="#000080"/>
<rect x="882" y="518" width="3" height="19" fill="#000080"/>
<rect x="890" y="514" width="3" height="23" fill="#000080"/>
<rect x="898" y="512" width="3" height="25" fill="#000080"/>
<rect x="906" y="509" width="3" height="28" fill="#000080"/>
<rect x="914" y="510" width="3" height="27" fill="#1e90ff"/>
<rect x="922" y="504" width="3" height="33" fill="#000080"/>
<rect x="930" y="495" width="3" height="42" fill="#000080"/>
<rect x="938" y="489" width="3" height="48" fill="#000080"/>
<rect x="946" y="484" width="3" height="53" fill="#000080"/>
<rect x="954" y="483" width="3" height="54" fill="#000080"/>
<rect x="962" y="484" width="3" height="53" fill="#1e90ff"/>
<rect x="970" y="488" width="3" height="49" fill="#1e90ff"/>
<rect x="978" y="488" width="3" height="49" fill="#1e90ff"/>
<rect x="986" y="490" width="3" height="47" fill="#1e90ff"/>
<rect x="994" y="489" width="3" height="48" fill="#000080"/>
<rect x="1002" y="489" width="3" height="48" fill="#1e90ff"/>
<rect x="1010" y="492" width="3" height="45" fill="#1e90ff"/>
<rect x="1018" y="490" width="3" height="47" fill="#000080"/>
<rect x="1026" y="490" width="3" height="47" fill="#000080"/>
<rect x="1034" y="493" width="3" height="44" fill="#1e90ff"/>
<rect x="1042" y="494" width="3" height="43" fill="#1e90ff"/>
<rect x="1050" y="496" width="3" height="41" fill="#1e90ff"/>
<rect x="1058" y="497" width="3" height="40" fill="#1e90ff"/>
<rect x="1066" y="495" width="3" height="42" fill="#000080"/>
<rect x="1074" y="494" width="3" height="43" fill="#000080"/>
<rect x="1082" y="497" width="3" height="40" fill="#1e90ff"/>
<rect x="1090" y="497" width="3" height="40" fill="#1e90ff"/>
<rect x="1098" y="500" width="3" height="37" fill="#1e90ff"/>
<rect x="1106" y="503" width="3" height="34" fill="#1e90ff"/>
<rect x="1114" y="502" width="3" height="35" fill="#000080"/>
<rect x="1122" y="504" width="3" height="33" fill="#1e90ff"/>
<rect x="1130" y="508" width="3" height="29" fill="#1e90ff"/>
<rect x="1138" y="511" width="3" height="26" fill="#1e90ff"/>
<rect x="1146" y="512" width="3" height="25" fill="#1e90ff"/>
<rect x="1154" y="516" width="3" height="21" fill="#1e90ff"/>
<rect x="1162" y="522" width="3" height="15" fill="#1e90ff"/>
<rect x="1170" y="527" width="3" height="10" fill="#1e90ff"/>
<rect x="1178" y="532" width="3" height="5" fill="#1e90ff"/>
<rect x="1186" y="536" width="3" height="1" fill="#1e90ff"/>
<rect x="1194" y="537" width="3" height="4" fill="#b22222"/>
<rect x="1202" y="537" width="3" height="8" fill="#b22222"/>
<rect x="1210" y="537" width="3" height="10" fill="#b22222"/>
<rect x="1218" y="537" width="3" height="12" fill="#b22222"/>
<rect x="1226" y="537" width="3" height="13" fill="#b22222"/>
<rect x="1234" y="537" width="3" height="14" fill="#b22222"/>
<rect x="1242" y="537" width="3" height="14" fill="#b22222"/>
<rect x="1250" y="537" width="3" height="15" fill="#b22222"/>
<rect x="1258" y="537" width="3" height="16" fill="#b22222"/>
<rect x="1266" y="537" width="3" height="14" fill="#ff6347"/>
<rect x="1274" y="537" width="3" height="12" fill="#ff6347"/>
</g>
<path d="M3.5 560.8 L11.5 563.3 L19.5 566.3 L27.5 568.3 L35.5 570 L43.5 571.7 L51.5 573 L59.5 574.2 L67.5 575.3 L75.5 576.3 L83.5 577.5 L91.5 579.2 L99.5 579.2 L107.5 580 L115.5 580 L123.5 580 L131.5 580 L139.5 578.3 L147.5 576.3 L155.5 575 L163.5 574.2 L171.5 574.2 L179.5 575 L187.5 577.2 L195.5 579.2 L203.5 581.3 L211.5 583 L219.5 585.2 L227.5 587.6 L235.5 589.2 L243.5 590.4 L251.5 591.1 L259.5 591.1 L267.5 590.4 L275.5 590.1 L283.5 589.2 L291.5 588.4 L299.5 587.2 L307.5 584.2 L315.5 582.1 L323.5 578.4 L331.5 573.9 L339.5 569.2 L347.5 564.2 L355.5 557.6 L363.5 553.1 L371.5 549.2 L379.5 545.4 L387.5 542.2 L395.5 540 L403.5 539.2 L411.5 539.2 L419.5 539.2 L427.5 539.2 L435.5 540.4 L443.5 540.4 L451.5 541.7 L459.5 542.5 L467.5 544.2 L475.5 547.2 L483.5 548.9 L491.5 550.4 L499.5 552.1 L507.5 553.4 L515.5 554.2 L523.5 553.4 L531.5 552.6 L539.5 551.4 L547.5 548.1 L555.5 545 L563.5 542.2 L571.5 540.4 L579.5 537.5 L587.5 534.7 L595.5 530.5 L603.5 528.4 L611.5 524.2 L619.5 522.5 L627.5 519.7 L635.5 515 L643.5 513.4 L651.5 510.5 L659.5 508.9 L667.5 507.2 L675.5 507.2 L683.5 507.2 L691.5 507.2 L699.5 508.4 L707.5 511.4 L715.5 514.5 L723.5 516.4 L731.5 519.2 L739.5 522 L747.5 525 L755.5 527.2 L763.5 529.2 L771.5 532.2 L779.5 533.4 L787.5 534.2 L795.5 535.4 L803.5 535.5 L811.5 536.4 L819.5 536.4 L827.5 536.4 L835.5 536.4 L843.5 535.5 L851.5 534.2 L859.5 533 L867.5 532 L875.5 530 L883.5 528.4 L891.5 525.9 L899.5 523.4 L907.5 520.9 L915.5 519.5 L923.5 516.7 L931.5 512 L939.5 508 L947.5 503.9 L955.5 500.3 L963.5 497.2 L971.5 494.2 L979.5 492 L987.5 489.5 L995.5 488 L1003.5 487.2 L1011.5 487.2 L1019.5 488 L1027.5 489.5 L1035.5 490.5 L1043.5 490.8 L1051.5 491.7 L1059.5 492.5 L1067.5 493 L1075.5 493.3 L1083.5 494.5 L1091.5 495.5 L1099.5 496.3 L1107.5 497.5 L1115.5 498.3 L1123.5 499.5 L1131.5 500.5 L1139.5 502.5 L1147.5 504.5 L1155.5 506.4 L1163.5 509.5 L1171.5 512.5 L1179.5 515.4 L1187.5 519.7 L1195.5 523.7 L1203.5 527.9 L1211.5 532 L1219.5 535.9 L1227.5 538.4 L1235.5 541.7 L1243.5 544.5 L1251.5 546.4 L1259.5 548 L1267.5 549.5 L1275.5 549.2" fill="none" stroke="#000" stroke-width="1" stroke-linejoin="round" shape-rendering="crispEdges"/>
<g shape-rendering="crispEdges">
<rect x="2" y="659" width="3" height="35" fill="#b22222"/>
<rect x="10" y="659" width="3" height="23" fill="#b22222"/>
<rect x="18" y="652" width="3" height="7" fill="#000080"/>
<rect x="26" y="659" width="3" height="4" fill="#b22222"/>
<rect x="34" y="659" width="3" height="9" fill="#b22222"/>
<rect x="42" y="659" width="3" height="21" fill="#b22222"/>
<rect x="50" y="659" width="3" height="9" fill="#b22222"/>
<rect x="58" y="659" width="3" height="52" fill="#b22222"/>
<rect x="66" y="659" width="3" height="48" fill="#b22222"/>
<rect x="74" y="659" width="3" height="28" fill="#b22222"/>
<rect x="82" y="659" width="3" height="24" fill="#b22222"/>
<rect x="90" y="659" width="3" height="17" fill="#b22222"/>
<rect x="98" y="653" width="3" height="6" fill="#000080"/>
<rect x="106" y="640" width="3" height="19" fill="#000080"/>
<rect x="114" y="656" width="3" height="3" fill="#000080"/>
<rect x="122" y="659" width="3" height="9" fill="#b22222"/>
<rect x="130" y="659" width="3" height="4" fill="#b22222"/>
<rect x="138" y="659" width="3" height="2" fill="#b22222"/>
<rect x="146" y="654" width="3" height="5" fill="#000080"/>
<rect x="154" y="654" width="3" height="5" fill="#000080"/>
<rect x="162" y="659" width="3" height="57" fill="#b22222"/>
<rect x="170" y="659" width="3" height="56" fill="#b22222"/>
<rect x="178" y="659" width="3" height="35" fill="#b22222"/>
<rect x="186" y="659" width="3" height="27" fill="#b22222"/>
<rect x="194" y="659" width="3" height="24" fill="#b22222"/>
<rect x="202" y="659" width="3" height="17" fill="#b22222"/>
<rect x="210" y="659" width="3" height="19" fill="#b22222"/>
<rect x="218" y="659" width="3" height="13" fill="#b22222"/>
<rect x="226" y="659" width="3" height="13" fill="#b22222"/>
<rect x="234" y="659" width="3" height="32" fill="#b22222"/>
<rect x="242" y="659" width="3" height="32" fill="#b22222"/>
<rect x="250" y="659" width="3" height="46" fill="#b22222"/>
<rect x="258" y="659" width="3" height="31" fill="#b22222"/>
<rect x="266" y="659" width="3" height="11" fill="#b22222"/>
<rect x="274" y="659" width="3" height="35" fill="#b22222"/>
<rect x="282" y="659" width="3" height="40" fill="#b22222"/>
<rect x="290" y="659" width="3" height="12" fill="#b22222"/>
<rect x="298" y="608" width="3" height="51" fill="#000080"/>
<rect x="306" y="608" width="3" height="51" fill="#000080"/>
<rect x="314" y="638" width="3" height="21" fill="#000080"/>
<rect x="322" y="608" width="3" height="51" fill="#000080"/>
<rect x="330" y="625" width="3" height="34" fill="#000080"/>
<rect x="338" y="638" width="3" height="21" fill="#000080"/>
<rect x="346" y="648" width="3" height="11" fill="#000080"/>
<rect x="354" y="651" width="3" height="8" fill="#000080"/>
<rect x="362" y="659" width="3" height="5" fill="#b22222"/>
<rect x="370" y="659" width="3" height="17" fill="#b22222"/>
<rect x="378" y="659" width="3" height="12" fill="#b22222"/>
<rect x="386" y="659" width="3" height="9" fill="#b22222"/>
<rect x="394" y="659" width="3" height="11" fill="#b22222"/>
<rect x="402" y="659" width="3" height="30" fill="#b22222"/>
<rect x="410" y="659" width="3" height="42" fill="#b22222"/>
<rect x="418" y="659" width="3" height="12" fill="#b22222"/>
<rect x="426" y="652" width="3" height="7" fill="#000080"/>
<rect x="434" y="659" width="3" height="19" fill="#b22222"/>
<rect x="442" y="659" width="3" height="23" fill="#b22222"/>
<rect x="450" y="659" width="3" height="51" fill="#b22222"/>
<rect x="458" y="659" width="3" height="52" fill="#b22222"/>
<rect x="466" y="659" width="3" height="36" fill="#b22222"/>
<rect x="474" y="659" width="3" height="29" fill="#b22222"/>
<rect x="482" y="659" width="3" height="22" fill="#b22222"/>
<rect x="490" y="652" width="3" height="7" fill="#000080"/>
<rect x="498" y="645" width="3" height="14" fill="#000080"/>
<rect x="506" y="639" width="3" height="20" fill="#000080"/>
<rect x="514" y="645" width="3" height="14" fill="#000080"/>
<rect x="522" y="638" width="3" height="21" fill="#000080"/>
<rect x="530" y="631" width="3" height="28" fill="#000080"/>
<rect x="538" y="644" width="3" height="15" fill="#000080"/>
<rect x="546" y="637" width="3" height="22" fill="#000080"/>
<rect x="554" y="632" width="3" height="27" fill="#000080"/>
<rect x="562" y="616" width="3" height="43" fill="#000080"/>
<rect x="570" y="624" width="3" height="35" fill="#000080"/>
<rect x="578" y="634" width="3" height="25" fill="#000080"/>
<rect x="586" y="617" width="3" height="42" fill="#000080"/>
<rect x="594" y="624" width="3" height="35" fill="#000080"/>
<rect x="602" y="631" width="3" height="28" fill="#000080"/>
<rect x="610" y="638" width="3" height="21" fill="#000080"/>
<rect x="618" y="638" width="3" height="21" fill="#000080"/>
<rect x="626" y="628" width="3" height="31" fill="#000080"/>
<rect x="634" y="609" width="3" height="50" fill="#000080"/>
<rect x="642" y="625" width="3" height="34" fill="#000080"/>
<rect x="650" y="657" width="3" height="2" fill="#000080"/>
<rect x="658" y="659" width="3" height="8" fill="#b22222"/>
<rect x="666" y="659" width="3" height="3" fill="#b22222"/>
<rect x="674" y="659" width="3" height="12" fill="#b22222"/>
<rect x="682" y="659" width="3" height="20" fill="#b22222"/>
<rect x="690" y="659" width="3" height="13" fill="#b22222"/>
<rect x="698" y="659" width="3" height="30" fill="#b22222"/>
<rect x="706" y="659" width="3" height="48" fill="#b22222"/>
<rect x="714" y="659" width="3" height="38" fill="#b22222"/>
<rect x="722" y="659" width="3" height="25" fill="#b22222"/>
<rect x="730" y="659" width="3" height="22" fill="#b22222"/>
<rect x="738" y="659" width="3" height="20" fill="#b22222"/>
<rect x="746" y="659" width="3" height="8" fill="#b22222"/>
<rect x="754" y="654" width="3" height="5" fill="#000080"/>
<rect x="762" y="641" width="3" height="18" fill="#000080"/>
<rect x="770" y="659" width="3" height="24" fill="#b22222"/>
<rect x="778" y="659" width="3" height="22" fill="#b22222"/>
<rect x="786" y="634" width="3" height="25" fill="#000080"/>
<rect x="794" y="636" width="3" height="23" fill="#000080"/>
<rect x="802" y="659" width="3" height="8" fill="#b22222"/>
<rect x="810" y="659" width="3" height="3" fill="#b22222"/>
<rect x="818" y="636" width="3" height="23" fill="#000080"/>
<rect x="826" y="625" width="3" height="34" fill="#000080"/>
<rect x="834" y="625" width="3" height="34" fill="#000080"/>
<rect x="842" y="624" width="3" height="35" fill="#000080"/>
<rect x="850" y="640" width="3" height="19" fill="#000080"/>
<rect x="858" y="642" width="3" height="17" fill="#000080"/>
<rect x="866" y="628" width="3" height="31" fill="#000080"/>
<rect x="874" y="622" width="3" height="37" fill="#000080"/>
<rect x="882" y="612" width="3" height="47" fill="#000080"/>
<rect x="890" y="614" width="3" height="45" fill="#000080"/>
<rect x="898" y="629" width="3" height="30" fill="#000080"/>
<rect x="906" y="633" width="3" height="26" fill="#000080"/>
<rect x="914" y="646" width="3" height="13" fill="#000080"/>
<rect x="922" y="627" width="3" height="32" fill="#000080"/>
<rect x="930" y="607" width="3" height="52" fill="#000080"/>
<rect x="938" y="616" width="3" height="43" fill="#000080"/>
<rect x="946" y="629" width="3" height="30" fill="#000080"/>
<rect x="954" y="639" width="3" height="20" fill="#000080"/>
<rect x="962" y="649" width="3" height="10" fill="#000080"/>
<rect x="970" y="656" width="3" height="3" fill="#000080"/>
<rect x="978" y="654" width="3" height="5" fill="#000080"/>
<rect x="986" y="648" width="3" height="11" fill="#000080"/>
<rect x="994" y="647" width="3" height="12" fill="#000080"/>
<rect x="1002" y="637" width="3" height="22" fill="#000080"/>
<rect x="1010" y="659" width="3" height="1" fill="#b22222"/>
<rect x="1018" y="625" width="3" height="34" fill="#000080"/>
<rect x="1026" y="622" width="3" height="37" fill="#000080"/>
<rect x="1034" y="652" width="3" height="7" fill="#000080"/>
<rect x="1042" y="647" width="3" height="12" fill="#000080"/>
<rect x="1050" y="645" width="3" height="14" fill="#000080"/>
<rect x="1058" y="657" width="3" height="2" fill="#000080"/>
<rect x="1066" y="617" width="3" height="42" fill="#000080"/>
<rect x="1074" y="616" width="3" height="43" fill="#000080"/>
<rect x="1082" y="641" width="3" height="18" fill="#000080"/>
<rect x="1090" y="640" width="3" height="19" fill="#000080"/>
<rect x="1098" y="653" width="3" height="6" fill="#000080"/>
<rect x="1106" y="654" width="3" height="5" fill="#000080"/>
<rect x="1114" y="628" width="3" height="31" fill="#000080"/>
<rect x="1122" y="637" width="3" height="22" fill="#000080"/>
<rect x="1130" y="659" width="3" height="29" fill="#b22222"/>
<rect x="1138" y="659" width="3" height="34" fill="#b22222"/>
<rect x="1146" y="659" width="3" height="9" fill="#b22222"/>
<rect x="1154" y="659" width="3" height="34" fill="#b22222"/>
<rect x="1162" y="659" width="3" height="52" fill="#b22222"/>
<rect x="1170" y="659" width="3" height="37" fill="#b22222"/>
<rect x="1178" y="659" width="3" height="40" fill="#b22222"/>
<rect x="1186" y="659" width="3" height="31" fill="#b22222"/>
<rect x="1194" y="659" width="3" height="23" fill="#b22222"/>
<rect x="1202" y="659" width="3" height="26" fill="#b22222"/>
<rect x="1210" y="659" width="3" height="23" fill="#b22222"/>
<rect x="1218" y="659" width="3" height="15" fill="#b22222"/>
<rect x="1226" y="659" width="3" height="19" fill="#b22222"/>
<rect x="1234" y="659" width="3" height="17" fill="#b22222"/>
<rect x="1242" y="659" width="3" height="3" fill="#b22222"/>
<rect x="1250" y="659" width="3" height="42" fill="#b22222"/>
<rect x="1258" y="659" width="3" height="24" fill="#b22222"/>
<rect x="1266" y="629" width="3" height="30" fill="#000080"/>
<rect x="1274" y="610" width="3" height="49" fill="#000080"/>
<line x1="328" y1="607.5" x2="1305" y2="607.5" stroke="#c0c0c0" stroke-width="1" stroke-dasharray="3 3"/>
<line x1="4" y1="633.5" x2="1305" y2="633.5" stroke="#c0c0c0" stroke-width="1" stroke-dasharray="3 3"/>
<line x1="4" y1="646.5" x2="1305" y2="646.5" stroke="#c0c0c0" stroke-width="1" stroke-dasharray="3 3"/>
<line x1="4" y1="659.5" x2="1305" y2="659.5" stroke="#c0c0c0" stroke-width="1" stroke-dasharray="3 3"/>
<line x1="4" y1="672.5" x2="1305" y2="672.5" stroke="#c0c0c0" stroke-width="1" stroke-dasharray="3 3"/>
<line x1="4" y1="685.5" x2="1305" y2="685.5" stroke="#c0c0c0" stroke-width="1" stroke-dasharray="3 3"/>
<line x1="4" y1="711.5" x2="1305" y2="711.5" stroke="#c0c0c0" stroke-width="1" stroke-dasharray="3 3"/>
<rect x="1027" y="477" width="1" height="121" fill="#000"/>
<rect x="1027" y="601" width="1" height="120" fill="#000"/>
<rect x="819" y="477" width="1" height="121" fill="#00ff00"/>
<rect x="819" y="601" width="1" height="120" fill="#00ff00"/>
<rect x="2" y="1" width="1304" height="1" fill="#000"/>
<rect x="2" y="1" width="1" height="474" fill="#000"/>
<rect x="2" y="474" width="1304" height="1" fill="#000"/>
<rect x="2" y="476" width="1304" height="1" fill="#000"/>
<rect x="2" y="476" width="1" height="123" fill="#000"/>
<rect x="2" y="598" width="1304" height="1" fill="#000"/>
<rect x="2" y="600" width="1304" height="1" fill="#000"/>
<rect x="2" y="600" width="1" height="122" fill="#000"/>
<rect x="2" y="721" width="1304" height="1" fill="#000"/>
<rect x="1305" y="1" width="1" height="721" fill="#000"/>
<rect x="1305" y="475" width="1" height="1" fill="#fff"/>
<rect x="1305" y="599" width="1" height="1" fill="#fff"/>
<rect x="1306" y="473" width="1" height="1" fill="#000"/>
<rect x="1306" y="478" width="1" height="1" fill="#000"/>
<rect x="1306" y="597" width="1" height="1" fill="#000"/>
<rect x="1306" y="602" width="1" height="1" fill="#000"/>
<rect x="1306" y="9" width="2" height="1" fill="#000"/>
<rect x="1306" y="42" width="2" height="1" fill="#000"/>
<rect x="1306" y="75" width="2" height="1" fill="#000"/>
<rect x="1306" y="108" width="2" height="1" fill="#000"/>
<rect x="1306" y="141" width="2" height="1" fill="#000"/>
<rect x="1306" y="174" width="2" height="1" fill="#000"/>
<rect x="1306" y="207" width="2" height="1" fill="#000"/>
<rect x="1306" y="240" width="2" height="1" fill="#000"/>
<rect x="1306" y="273" width="2" height="1" fill="#000"/>
<rect x="1306" y="306" width="2" height="1" fill="#000"/>
<rect x="1306" y="339" width="2" height="1" fill="#000"/>
<rect x="1306" y="372" width="2" height="1" fill="#000"/>
<rect x="1306" y="405" width="2" height="1" fill="#000"/>
<rect x="1306" y="438" width="2" height="1" fill="#000"/>
<rect x="1306" y="471" width="2" height="1" fill="#000"/>
<rect x="1306" y="537" width="2" height="1" fill="#000"/>
<rect x="1306" y="659" width="2" height="1" fill="#000"/>
<rect x="3" y="722" width="1" height="3" fill="#000"/>
<rect x="67" y="722" width="1" height="3" fill="#000"/>
<rect x="131" y="722" width="1" height="3" fill="#000"/>
<rect x="195" y="722" width="1" height="3" fill="#000"/>
<rect x="259" y="722" width="1" height="3" fill="#000"/>
<rect x="323" y="722" width="1" height="3" fill="#000"/>
<rect x="387" y="722" width="1" height="3" fill="#000"/>
<rect x="451" y="722" width="1" height="3" fill="#000"/>
<rect x="515" y="722" width="1" height="3" fill="#000"/>
<rect x="579" y="722" width="1" height="3" fill="#000"/>
<rect x="643" y="722" width="1" height="3" fill="#000"/>
<rect x="707" y="722" width="1" height="3" fill="#000"/>
<rect x="771" y="722" width="1" height="3" fill="#000"/>
<rect x="835" y="722" width="1" height="3" fill="#000"/>
<rect x="899" y="722" width="1" height="3" fill="#000"/>
<rect x="963" y="722" width="1" height="3" fill="#000"/>
<rect x="1027" y="722" width="1" height="3" fill="#000"/>
<rect x="1091" y="722" width="1" height="3" fill="#000"/>
<rect x="1155" y="722" width="1" height="3" fill="#000"/>
<rect x="1219" y="722" width="1" height="3" fill="#000"/>
<rect x="1025" y="2" width="5" height="5" fill="#000"/>
<rect x="1026" y="3" width="3" height="3" fill="#fff"/>
<rect x="1025" y="470" width="5" height="5" fill="#000"/>
<rect x="1026" y="471" width="3" height="3" fill="#fff"/>
<rect x="1307" y="128" width="41" height="11" fill="#000"/>
<rect x="779" y="725" width="80" height="11" fill="#00f400"/>
<rect x="987" y="725" width="80" height="11" fill="#000"/>
</g>
<path d="M1142.5 2 L1152.5 2 L1147.5 7 Z" fill="#708090"/>
<g shape-rendering="crispEdges">
<rect x="8" y="387" width="11" height="12" fill="#b22222"/>
<rect x="21" y="387" width="11" height="12" fill="#1e90ff"/>
<rect x="34" y="387" width="11" height="12" fill="#ff6347"/>
<rect x="47" y="387" width="11" height="12" fill="#1e90ff"/>
<rect x="60" y="387" width="11" height="12" fill="#1e90ff"/>
<rect x="73" y="387" width="11" height="12" fill="#ff6347"/>
<rect x="86" y="387" width="11" height="12" fill="#ff6347"/>
<rect x="99" y="387" width="11" height="12" fill="#ff6347"/>
<rect x="112" y="387" width="11" height="12" fill="#1e90ff"/>
<rect x="8" y="400" width="11" height="12" fill="#ff6347"/>
<rect x="21" y="400" width="11" height="12" fill="#ff6347"/>
<rect x="34" y="400" width="11" height="12" fill="#1e90ff"/>
<rect x="47" y="400" width="11" height="12" fill="#ff6347"/>
<rect x="60" y="400" width="11" height="12" fill="#1e90ff"/>
<rect x="73" y="400" width="11" height="12" fill="#1e90ff"/>
<rect x="86" y="400" width="11" height="12" fill="#ff6347"/>
<rect x="99" y="400" width="11" height="12" fill="#ff6347"/>
<rect x="112" y="400" width="11" height="12" fill="#1e90ff"/>
<rect x="8" y="413" width="11" height="12" fill="#1e90ff"/>
<rect x="21" y="413" width="11" height="12" fill="#ff6347"/>
<rect x="34" y="413" width="11" height="12" fill="#ff6347"/>
<rect x="47" y="413" width="11" height="12" fill="#ff6347"/>
<rect x="60" y="413" width="11" height="12" fill="#ff6347"/>
<rect x="73" y="413" width="11" height="12" fill="#1e90ff"/>
<rect x="86" y="413" width="11" height="12" fill="#1e90ff"/>
<rect x="99" y="413" width="11" height="12" fill="#1e90ff"/>
<rect x="112" y="413" width="11" height="12" fill="#ff6347"/>
<rect x="8" y="426" width="11" height="12" fill="#1e90ff"/>
<rect x="21" y="426" width="11" height="12" fill="#ff6347"/>
<rect x="34" y="426" width="11" height="12" fill="#ff6347"/>
<rect x="47" y="426" width="11" height="12" fill="#ff6347"/>
<rect x="60" y="426" width="11" height="12" fill="#ff6347"/>
<rect x="73" y="426" width="11" height="12" fill="#ff6347"/>
<rect x="86" y="426" width="11" height="12" fill="#1e90ff"/>
<rect x="99" y="426" width="11" height="12" fill="#1e90ff"/>
<rect x="112" y="426" width="11" height="12" fill="#ff6347"/>
<rect x="8" y="439" width="11" height="12" fill="#ff6347"/>
<rect x="21" y="439" width="11" height="12" fill="#1e90ff"/>
<rect x="34" y="439" width="11" height="12" fill="#ff6347"/>
<rect x="47" y="439" width="11" height="12" fill="#ff6347"/>
<rect x="60" y="439" width="11" height="12" fill="#b22222"/>
<rect x="73" y="439" width="11" height="12" fill="#ff6347"/>
<rect x="86" y="439" width="11" height="12" fill="#ff6347"/>
<rect x="99" y="439" width="11" height="12" fill="#1e90ff"/>
<rect x="112" y="439" width="11" height="12" fill="#ff6347"/>
</g>
<text class="m" x="21" y="380" text-anchor="end">M</text>
<text class="m" x="34.05" y="380" text-anchor="end">W</text>
<text class="m" x="47.1" y="380" text-anchor="end">D</text>
<text class="m" x="60.15" y="380" text-anchor="end">H4</text>
<text class="m" x="73.2" y="380" text-anchor="end">H</text>
<text class="m" x="86.25" y="380" text-anchor="end">30</text>
<text class="m" x="99.3" y="380" text-anchor="end">15</text>
<text class="m" x="112.35" y="380" text-anchor="end">5</text>
<text class="m" x="125.4" y="380" text-anchor="end">1</text>
<text class="m" x="140" y="392.5" text-anchor="end">7</text>
<text class="m" x="140" y="405.5" text-anchor="end">21</text>
<text class="m" x="140" y="418.5" text-anchor="end">42</text>
<text class="m" x="140" y="431.5" text-anchor="end">89</text>
<text class="m" x="140" y="444.5" text-anchor="end">144</text>
<text x="13.4" y="463" style="font-size:9.3px;fill:#ff00ff" textLength="40.8" lengthAdjust="spacingAndGlyphs">NIHILIST</text>
<text x="58.7" y="463" style="font-size:9.3px;fill:#ff00ff" textLength="27.9" lengthAdjust="spacingAndGlyphs">ULTRA</text>
<text x="92" y="463" style="font-size:9.3px;fill:#ff00ff" textLength="18.1" lengthAdjust="spacingAndGlyphs">ADX</text>
<g><text class="s" transform="translate(7.2 13) scale(0.9216 1)" textLength="58.8108" lengthAdjust="spacingAndGlyphs" xml:space="preserve" style="white-space:pre">GBPCAD,H4</text></g>
<g><text class="s" transform="translate(68.6 13) scale(0.9216 1)" textLength="152.235" lengthAdjust="spacingAndGlyphs" xml:space="preserve" style="white-space:pre">1.85793 1.85951 1.85673 1.85883</text></g>
<g><text class="s" transform="translate(7.2 489) scale(0.9216 1)" textLength="118.815" lengthAdjust="spacingAndGlyphs" xml:space="preserve" style="white-space:pre">MACDHist_Alert (12,26,9)</text></g>
<g><text class="s" transform="translate(123.5 489) scale(0.9216 1)" textLength="91.3628" lengthAdjust="spacingAndGlyphs" xml:space="preserve" style="white-space:pre">-0.001512 -0.001730</text></g>
<g><text class="s" transform="translate(7 613) scale(0.9216 1)" textLength="134.115" lengthAdjust="spacingAndGlyphs" xml:space="preserve" style="white-space:pre">(TrendCCI: 10,EntryCCI: 10)</text></g>
<g><text class="s" transform="translate(137 613) scale(0.9216 1)" textLength="163.845" lengthAdjust="spacingAndGlyphs" xml:space="preserve" style="white-space:pre">187.7340 0.0000 187.7340 187.7340</text></g>
<g><text class="s" transform="translate(1311 13) scale(0.9216 1)" textLength="35.8073" lengthAdjust="spacingAndGlyphs" xml:space="preserve" style="white-space:pre">1.87700</text></g>
<g><text class="s" transform="translate(1311 46) scale(0.9216 1)" textLength="35.8073" lengthAdjust="spacingAndGlyphs" xml:space="preserve" style="white-space:pre">1.87220</text></g>
<g><text class="s" transform="translate(1311 79) scale(0.9216 1)" textLength="35.8073" lengthAdjust="spacingAndGlyphs" xml:space="preserve" style="white-space:pre">1.86730</text></g>
<g><text class="s" transform="translate(1311 112) scale(0.9216 1)" textLength="35.8073" lengthAdjust="spacingAndGlyphs" xml:space="preserve" style="white-space:pre">1.86250</text></g>
<g><text class="s" transform="translate(1311 145) scale(0.9216 1)" textLength="35.8073" lengthAdjust="spacingAndGlyphs" xml:space="preserve" style="white-space:pre">1.85770</text></g>
<g><text class="s" transform="translate(1311 178) scale(0.9216 1)" textLength="35.8073" lengthAdjust="spacingAndGlyphs" xml:space="preserve" style="white-space:pre">1.85280</text></g>
<g><text class="s" transform="translate(1311 211) scale(0.9216 1)" textLength="35.8073" lengthAdjust="spacingAndGlyphs" xml:space="preserve" style="white-space:pre">1.84800</text></g>
<g><text class="s" transform="translate(1311 244) scale(0.9216 1)" textLength="35.8073" lengthAdjust="spacingAndGlyphs" xml:space="preserve" style="white-space:pre">1.84310</text></g>
<g><text class="s" transform="translate(1311 277) scale(0.9216 1)" textLength="35.8073" lengthAdjust="spacingAndGlyphs" xml:space="preserve" style="white-space:pre">1.83830</text></g>
<g><text class="s" transform="translate(1311 310) scale(0.9216 1)" textLength="35.8073" lengthAdjust="spacingAndGlyphs" xml:space="preserve" style="white-space:pre">1.83350</text></g>
<g><text class="s" transform="translate(1311 343) scale(0.9216 1)" textLength="35.8073" lengthAdjust="spacingAndGlyphs" xml:space="preserve" style="white-space:pre">1.82860</text></g>
<g><text class="s" transform="translate(1311 376) scale(0.9216 1)" textLength="35.8073" lengthAdjust="spacingAndGlyphs" xml:space="preserve" style="white-space:pre">1.82380</text></g>
<g><text class="s" transform="translate(1311 409) scale(0.9216 1)" textLength="35.8073" lengthAdjust="spacingAndGlyphs" xml:space="preserve" style="white-space:pre">1.81890</text></g>
<g><text class="s" transform="translate(1311 442) scale(0.9216 1)" textLength="35.8073" lengthAdjust="spacingAndGlyphs" xml:space="preserve" style="white-space:pre">1.81410</text></g>
<g><text class="s" transform="translate(1311 475) scale(0.9216 1)" textLength="35.8073" lengthAdjust="spacingAndGlyphs" xml:space="preserve" style="white-space:pre">1.80920</text></g>
<g><text class="w" transform="translate(1311 137) scale(0.9216 1)" textLength="35.8073" lengthAdjust="spacingAndGlyphs" xml:space="preserve" style="white-space:pre">1.85883</text></g>
<g><text class="s" transform="translate(1309 486.5) scale(0.9216 1)" textLength="41.2326" lengthAdjust="spacingAndGlyphs" xml:space="preserve" style="white-space:pre">0.008367</text></g>
<g><text class="s" transform="translate(1309 540.5) scale(0.9216 1)" textLength="19.4227" lengthAdjust="spacingAndGlyphs" xml:space="preserve" style="white-space:pre">0.00</text></g>
<g><text class="s" transform="translate(1309 594.5) scale(0.9216 1)" textLength="39.605" lengthAdjust="spacingAndGlyphs" xml:space="preserve" style="white-space:pre">-0.00847</text></g>
<g><text class="s" transform="translate(1309 610.3) scale(0.9216 1)" textLength="41.2326" lengthAdjust="spacingAndGlyphs" xml:space="preserve" style="white-space:pre">220.4826</text></g>
<g><text class="s" transform="translate(1309 610.3) scale(0.9216 1)" textLength="15.191" lengthAdjust="spacingAndGlyphs" xml:space="preserve" style="white-space:pre">200</text></g>
<g><text class="s" transform="translate(1309 636.3) scale(0.9216 1)" textLength="15.191" lengthAdjust="spacingAndGlyphs" xml:space="preserve" style="white-space:pre">100</text></g>
<g><text class="s" transform="translate(1309 649.3) scale(0.9216 1)" textLength="9.76562" lengthAdjust="spacingAndGlyphs" xml:space="preserve" style="white-space:pre">50</text></g>
<g><text class="s" transform="translate(1309 662.3) scale(0.9216 1)" textLength="19.4227" lengthAdjust="spacingAndGlyphs" xml:space="preserve" style="white-space:pre">0.00</text></g>
<g><text class="s" transform="translate(1309 662.3) scale(0.9216 1)" textLength="4.99132" lengthAdjust="spacingAndGlyphs" xml:space="preserve" style="white-space:pre">0</text></g>
<g><text class="s" transform="translate(1309 675.3) scale(0.9216 1)" textLength="12.8038" lengthAdjust="spacingAndGlyphs" xml:space="preserve" style="white-space:pre">-50</text></g>
<g><text class="s" transform="translate(1309 688.3) scale(0.9216 1)" textLength="18.1207" lengthAdjust="spacingAndGlyphs" xml:space="preserve" style="white-space:pre">-100</text></g>
<g><text class="s" transform="translate(1309 713) scale(0.9216 1)" textLength="18.1207" lengthAdjust="spacingAndGlyphs" xml:space="preserve" style="white-space:pre">-200</text></g>
<g><text class="s" transform="translate(1309 718.4) scale(0.9216 1)" xml:space="preserve" style="white-space:pre">-237.8967</text></g>
<g><text class="s" transform="translate(2 734) scale(0.9216 1)" xml:space="preserve" style="white-space:pre">7 Apr 2016</text></g>
<g><text class="s" transform="translate(66 734) scale(0.9216 1)" xml:space="preserve" style="white-space:pre">8 Apr 16:00</text></g>
<g><text class="s" transform="translate(130 734) scale(0.9216 1)" xml:space="preserve" style="white-space:pre">12 Apr 00:00</text></g>
<g><text class="s" transform="translate(194 734) scale(0.9216 1)" xml:space="preserve" style="white-space:pre">13 Apr 08:00</text></g>
<g><text class="s" transform="translate(258 734) scale(0.9216 1)" xml:space="preserve" style="white-space:pre">14 Apr 16:00</text></g>
<g><text class="s" transform="translate(322 734) scale(0.9216 1)" xml:space="preserve" style="white-space:pre">18 Apr 00:00</text></g>
<g><text class="s" transform="translate(386 734) scale(0.9216 1)" xml:space="preserve" style="white-space:pre">19 Apr 08:00</text></g>
<g><text class="s" transform="translate(450 734) scale(0.9216 1)" xml:space="preserve" style="white-space:pre">20 Apr 16:00</text></g>
<g><text class="s" transform="translate(514 734) scale(0.9216 1)" xml:space="preserve" style="white-space:pre">22 Apr 00:00</text></g>
<g><text class="s" transform="translate(578 734) scale(0.9216 1)" xml:space="preserve" style="white-space:pre">25 Apr 08:00</text></g>
<g><text class="s" transform="translate(642 734) scale(0.9216 1)" xml:space="preserve" style="white-space:pre">26 Apr 16:00</text></g>
<g><text class="s" transform="translate(706 734) scale(0.9216 1)" xml:space="preserve" style="white-space:pre">28 Apr 00:00</text></g>
<g><text class="s" transform="translate(770 734) scale(0.9216 1)" xml:space="preserve" style="white-space:pre">29</text></g>
<g clip-path="url(#c1)"><text class="s" transform="translate(834 734) scale(0.9216 1)" xml:space="preserve" style="white-space:pre">2 May 16:00</text></g>
<g><text class="s" transform="translate(898 734) scale(0.9216 1)" xml:space="preserve" style="white-space:pre">4 May 00:00</text></g>
<g clip-path="url(#c2)"><text class="s" transform="translate(962 734) scale(0.9216 1)" xml:space="preserve" style="white-space:pre">5 May 08:00</text></g>
<g clip-path="url(#c3)"><text class="s" transform="translate(1026 734) scale(0.9216 1)" xml:space="preserve" style="white-space:pre">6 May 16:00</text></g>
<g><text class="s" transform="translate(1090 734) scale(0.9216 1)" xml:space="preserve" style="white-space:pre">10 May 00:00</text></g>
<g><text class="s" transform="translate(1154 734) scale(0.9216 1)" xml:space="preserve" style="white-space:pre">11 May 08:00</text></g>
<g><text class="s" transform="translate(1218 734) scale(0.9216 1)" xml:space="preserve" style="white-space:pre">12 May 16:00</text></g>
<defs><clipPath id="c1"><rect x="859" y="722" width="100" height="20"/></clipPath><clipPath id="c2"><rect x="900" y="722" width="87" height="20"/></clipPath><clipPath id="c3"><rect x="1067" y="722" width="40" height="20"/></clipPath></defs>
<g><text class="w" transform="translate(783 734) scale(0.9216 1)" textLength="78.125" lengthAdjust="spacingAndGlyphs" xml:space="preserve" style="white-space:pre">2016.05.02 08:00</text></g>
<g><text class="w" transform="translate(991 734) scale(0.9216 1)" textLength="78.125" lengthAdjust="spacingAndGlyphs" xml:space="preserve" style="white-space:pre">2016.05.06 16:00</text></g>
<text class="b" x="1284.5" y="274.5" text-anchor="end" fill="#ff8c00">Daily Range</text>
<g shape-rendering="crispEdges">
<line x1="1162" y1="280.5" x2="1285" y2="280.5" stroke="#c0c0c0" stroke-width="1" stroke-dasharray="3 2"/>
<line x1="1162" y1="407.5" x2="1285" y2="407.5" stroke="#c0c0c0" stroke-width="1" stroke-dasharray="3 2"/>
<line x1="1162" y1="432.5" x2="1285" y2="432.5" stroke="#c0c0c0" stroke-width="1" stroke-dasharray="3 2"/>
</g>
<text class="b" x="1234" y="300" text-anchor="end" fill="#808080">Today</text>
<text class="n" x="1284" y="300" text-anchor="end" textLength="34.05" lengthAdjust="spacingAndGlyphs">948</text>
<text class="b" x="1234" y="319.6" text-anchor="end" fill="#808080">1 Day</text>
<text class="n" x="1284" y="319.6" text-anchor="end" textLength="45.4" lengthAdjust="spacingAndGlyphs">1344</text>
<text class="b" x="1234" y="339.5" text-anchor="end" fill="#808080">5 Days</text>
<text class="n" x="1284" y="339.5" text-anchor="end" textLength="45.4" lengthAdjust="spacingAndGlyphs">1287</text>
<text class="b" x="1234" y="359.8" text-anchor="end" fill="#808080">10 Days</text>
<text class="n" x="1284" y="359.8" text-anchor="end" textLength="45.4" lengthAdjust="spacingAndGlyphs">1411</text>
<text class="b" x="1234" y="379.3" text-anchor="end" fill="#808080">20 Days</text>
<text class="n" x="1284" y="379.3" text-anchor="end" textLength="45.4" lengthAdjust="spacingAndGlyphs">1435</text>
<text class="b" x="1234" y="399" text-anchor="end" fill="#808080">30 Days</text>
<text class="n" x="1284" y="399" text-anchor="end" textLength="45.4" lengthAdjust="spacingAndGlyphs">1560</text>
<text class="b" x="1234" y="426.6" text-anchor="end" fill="#c0c0c0">Total Av</text>
<text class="n" x="1284" y="426.6" text-anchor="end" textLength="45.4" lengthAdjust="spacingAndGlyphs">1407</text>
</svg></body></html>
